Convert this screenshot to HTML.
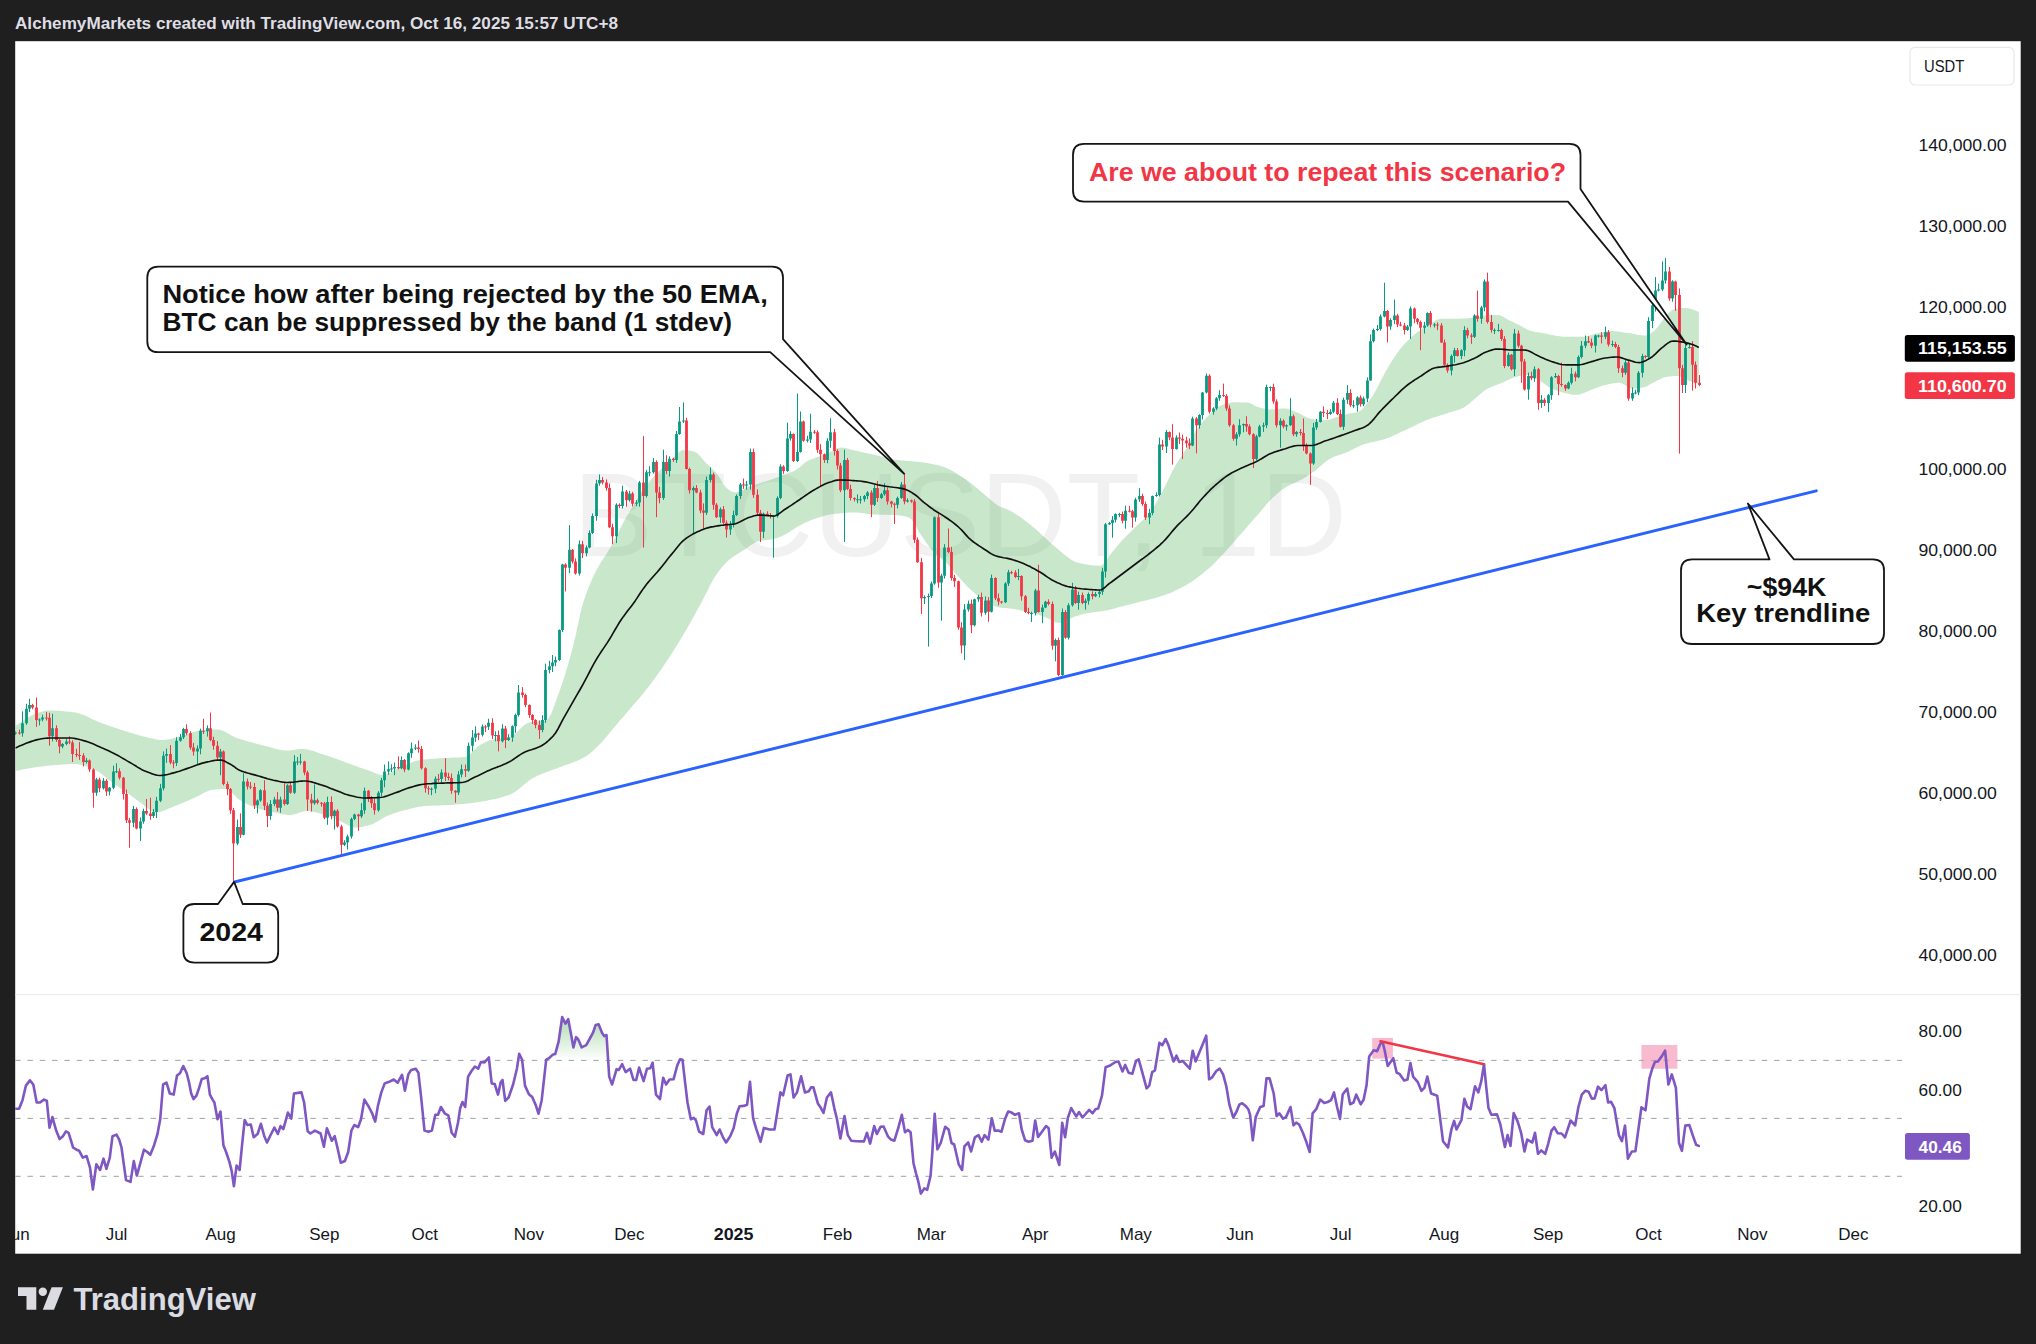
<!DOCTYPE html>
<html lang="en"><head><meta charset="utf-8"><title>BTCUSDT 1D chart</title>
<style>html,body{margin:0;padding:0;background:#1f1f1f;}body{width:2036px;height:1344px;overflow:hidden;}</style></head>
<body>
<svg width="2036" height="1344" viewBox="0 0 2036 1344" style="display:block">
<defs><clipPath id="cp"><rect x="15.2" y="41.2" width="2005.5" height="1212.5"/></clipPath>
<clipPath id="cplot"><rect x="15.2" y="41.2" width="1886.8" height="1212.5"/></clipPath>
<linearGradient id="og" x1="0" y1="0" x2="0" y2="1"><stop offset="0" stop-color="#4caf50" stop-opacity="0.45"/><stop offset="1" stop-color="#4caf50" stop-opacity="0"/></linearGradient>
</defs>
<rect width="2036" height="1344" fill="#1f1f1f"/>
<rect x="15.2" y="41.2" width="2005.5" height="1212.5" fill="#ffffff"/>
<text x="15" y="28.9" font-family="'Liberation Sans', sans-serif" font-weight="bold" font-size="16.5" fill="#dedee4" textLength="603" lengthAdjust="spacingAndGlyphs">AlchemyMarkets created with TradingView.com, Oct 16, 2025 15:57 UTC+8</text>
<g clip-path="url(#cp)">
<rect x="15.2" y="994" width="2005.5" height="1.2" fill="#ececec"/>
<text id="wm" x="573" y="555.7" font-family="'Liberation Sans', sans-serif" font-size="118.5" fill="#f1f1f1" textLength="774" lengthAdjust="spacingAndGlyphs">BTCUSDT, 1D</text>
<path d="M15.5 726 L17.5 724.5 L19.5 723.1 L21.5 721.7 L23.5 720.3 L25.5 719 L27.5 717.8 L29.5 716.7 L31.5 715.6 L33.5 714.6 L35.5 713.7 L37.5 712.9 L39.5 712.3 L41.5 711.7 L43.5 711.2 L45.5 710.8 L47.5 710.6 L49.5 710.5 L51.5 710.5 L53.5 710.6 L55.5 710.6 L57.5 710.7 L59.5 710.8 L61.5 711 L63.5 711.2 L65.5 711.4 L67.5 711.6 L69.5 711.8 L71.5 712 L73.5 712.3 L75.5 712.6 L77.5 713 L79.5 713.5 L81.5 714.2 L83.5 715 L85.5 715.8 L87.5 716.8 L89.5 717.7 L91.5 718.7 L93.5 719.7 L95.5 720.6 L97.5 721.5 L99.5 722.3 L101.5 723 L103.5 723.8 L105.5 724.5 L107.5 725.2 L109.5 725.9 L111.5 726.6 L113.5 727.3 L115.5 728 L117.5 728.6 L119.5 729.3 L121.5 729.9 L123.5 730.5 L125.5 731.2 L127.5 731.8 L129.5 732.4 L131.5 733 L133.5 733.6 L135.5 734.2 L137.5 734.8 L139.5 735.4 L141.5 736 L143.5 736.5 L145.5 737 L147.5 737.5 L149.5 737.9 L151.5 738.3 L153.5 738.8 L155.5 739.2 L157.5 739.6 L159.5 739.9 L161.5 740 L163.5 740 L165.5 739.8 L167.5 739.5 L169.5 739.2 L171.5 738.7 L173.5 738.2 L175.5 737.7 L177.5 737.2 L179.5 736.6 L181.5 736.1 L183.5 735.6 L185.5 735 L187.5 734.2 L189.5 733.5 L191.5 732.7 L193.5 732 L195.5 731.4 L197.5 730.9 L199.5 730.6 L201.5 730.4 L203.5 730.2 L205.5 730 L207.5 729.9 L209.5 729.7 L211.5 729.6 L213.5 729.6 L215.5 729.5 L217.5 729.5 L219.5 729.8 L221.5 730.3 L223.5 731.1 L225.5 732.1 L227.5 733.2 L229.5 734.3 L231.5 735.4 L233.5 736.5 L235.5 737.4 L237.5 738.2 L239.5 738.8 L241.5 739.5 L243.5 740.1 L245.5 740.7 L247.5 741.2 L249.5 741.8 L251.5 742.3 L253.5 742.9 L255.5 743.4 L257.5 743.9 L259.5 744.4 L261.5 744.9 L263.5 745.4 L265.5 745.9 L267.5 746.5 L269.5 747.1 L271.5 747.7 L273.5 748.2 L275.5 748.8 L277.5 749.3 L279.5 749.7 L281.5 750.1 L283.5 750.3 L285.5 750.5 L287.5 750.5 L289.5 750.4 L291.5 750.2 L293.5 749.9 L295.5 749.6 L297.5 749.3 L299.5 749.1 L301.5 749 L303.5 749 L305.5 749.2 L307.5 749.6 L309.5 750 L311.5 750.5 L313.5 751.1 L315.5 751.8 L317.5 752.5 L319.5 753.2 L321.5 753.9 L323.5 754.5 L325.5 755.2 L327.5 755.8 L329.5 756.4 L331.5 757.1 L333.5 757.9 L335.5 758.6 L337.5 759.3 L339.5 760.1 L341.5 760.8 L343.5 761.6 L345.5 762.4 L347.5 763.1 L349.5 763.8 L351.5 764.5 L353.5 765.2 L355.5 765.9 L357.5 766.7 L359.5 767.4 L361.5 768.1 L363.5 768.8 L365.5 769.5 L367.5 770.1 L369.5 770.8 L371.5 771.6 L373.5 772.4 L375.5 773.3 L377.5 774.1 L379.5 774.7 L381.5 775 L383.5 774.9 L385.5 774.5 L387.5 773.8 L389.5 772.9 L391.5 771.9 L393.5 770.8 L395.5 769.7 L397.5 768.6 L399.5 767.7 L401.5 766.9 L403.5 766 L405.5 765.1 L407.5 764.2 L409.5 763.3 L411.5 762.5 L413.5 761.7 L415.5 761 L417.5 760.5 L419.5 760.1 L421.5 759.8 L423.5 759.6 L425.5 759.4 L427.5 759.2 L429.5 759 L431.5 758.8 L433.5 758.7 L435.5 758.6 L437.5 758.4 L439.5 758.3 L441.5 758.2 L443.5 758.1 L445.5 758 L447.5 757.9 L449.5 757.8 L451.5 757.7 L453.5 757.6 L455.5 757.6 L457.5 757.5 L459.5 757.4 L461.5 757.3 L463.5 757.1 L465.5 756.9 L467.5 756.1 L469.5 754.7 L471.5 752.8 L473.5 750.8 L475.5 748.7 L477.5 746.8 L479.5 745.3 L481.5 744.2 L483.5 743.2 L485.5 742.2 L487.5 741.3 L489.5 740.5 L491.5 739.8 L493.5 739.3 L495.5 738.9 L497.5 738.7 L499.5 738.5 L501.5 738.3 L503.5 738.2 L505.5 738 L507.5 737.7 L509.5 737.4 L511.5 736.6 L513.5 735.3 L515.5 733.6 L517.5 731.7 L519.5 729.6 L521.5 727.6 L523.5 725.8 L525.5 724.2 L527.5 723 L529.5 722.4 L531.5 722 L533.5 721.7 L535.5 721.5 L537.5 721.4 L539.5 721.2 L541.5 721 L543.5 720.7 L545.5 720.3 L547.5 719.5 L549.5 717 L551.5 713 L553.5 707.9 L555.5 702.3 L557.5 696.6 L559.5 691.2 L561.5 685.6 L563.5 679.5 L565.5 673.1 L567.5 666.4 L569.5 659.3 L571.5 652 L573.5 644.4 L575.5 636.2 L577.5 626.8 L579.5 617.2 L581.5 608.6 L583.5 601.8 L585.5 595.8 L587.5 590.3 L589.5 585.2 L591.5 580.5 L593.5 576.1 L595.5 572 L597.5 568.2 L599.5 564.7 L601.5 561.5 L603.5 558.5 L605.5 555.5 L607.5 552.3 L609.5 549 L611.5 545.4 L613.5 541.7 L615.5 537.8 L617.5 533.8 L619.5 529.9 L621.5 526 L623.5 522.2 L625.5 518.5 L627.5 515 L629.5 511.6 L631.5 508.3 L633.5 505 L635.5 501.7 L637.5 498.6 L639.5 495.5 L641.5 492.5 L643.5 489.5 L645.5 486.8 L647.5 484.1 L649.5 481.6 L651.5 479.2 L653.5 477 L655.5 474.9 L657.5 472.8 L659.5 470.8 L661.5 468.9 L663.5 467.1 L665.5 465.2 L667.5 463.4 L669.5 461.6 L671.5 459.5 L673.5 457.3 L675.5 455.2 L677.5 453.3 L679.5 451.7 L681.5 450.6 L683.5 450 L685.5 450 L687.5 450.2 L689.5 450.6 L691.5 451 L693.5 451.6 L695.5 452.2 L697.5 453.5 L699.5 455.4 L701.5 457.7 L703.5 460.2 L705.5 462.5 L707.5 464.5 L709.5 466.3 L711.5 468.2 L713.5 470.1 L715.5 472.2 L717.5 474.5 L719.5 477.4 L721.5 480.9 L723.5 484.3 L725.5 487.1 L727.5 488.7 L729.5 490.2 L731.5 491.4 L733.5 492.2 L735.5 492.5 L737.5 492.3 L739.5 491.7 L741.5 490.8 L743.5 489.8 L745.5 488.7 L747.5 487.6 L749.5 486.6 L751.5 485.8 L753.5 485.1 L755.5 484.5 L757.5 483.9 L759.5 483.3 L761.5 482.7 L763.5 482.1 L765.5 481.5 L767.5 480.8 L769.5 480.2 L771.5 479.5 L773.5 478.8 L775.5 478 L777.5 477.3 L779.5 476.6 L781.5 475.8 L783.5 475.1 L785.5 474.3 L787.5 473.6 L789.5 472.8 L791.5 472.1 L793.5 471.2 L795.5 470.3 L797.5 469.1 L799.5 467.5 L801.5 465.7 L803.5 463.9 L805.5 462.3 L807.5 461 L809.5 460 L811.5 459.2 L813.5 458.4 L815.5 457.7 L817.5 457 L819.5 456.2 L821.5 455.4 L823.5 454.6 L825.5 453.8 L827.5 453 L829.5 452.2 L831.5 451.3 L833.5 450.3 L835.5 449.2 L837.5 448.3 L839.5 447.7 L841.5 447.5 L843.5 447.7 L845.5 448.1 L847.5 448.6 L849.5 449.2 L851.5 449.8 L853.5 450.2 L855.5 450.7 L857.5 451.1 L859.5 451.5 L861.5 452 L863.5 452.4 L865.5 452.9 L867.5 453.3 L869.5 453.8 L871.5 454.2 L873.5 454.7 L875.5 455.1 L877.5 455.6 L879.5 456.1 L881.5 456.6 L883.5 457.1 L885.5 457.6 L887.5 458.1 L889.5 458.5 L891.5 459 L893.5 459.4 L895.5 459.7 L897.5 460 L899.5 460.2 L901.5 460.4 L903.5 460.6 L905.5 460.8 L907.5 460.9 L909.5 461.1 L911.5 461.2 L913.5 461.4 L915.5 461.5 L917.5 461.7 L919.5 461.9 L921.5 462.2 L923.5 462.5 L925.5 462.8 L927.5 463.1 L929.5 463.4 L931.5 463.8 L933.5 464.2 L935.5 464.7 L937.5 465.1 L939.5 465.7 L941.5 466.2 L943.5 466.8 L945.5 467.5 L947.5 468.4 L949.5 469.4 L951.5 470.4 L953.5 471.6 L955.5 472.8 L957.5 474.1 L959.5 475.4 L961.5 476.7 L963.5 478 L965.5 479.3 L967.5 480.7 L969.5 482.2 L971.5 483.7 L973.5 485.3 L975.5 487 L977.5 488.6 L979.5 490.3 L981.5 492 L983.5 493.7 L985.5 495.4 L987.5 497 L989.5 498.7 L991.5 500.4 L993.5 502.2 L995.5 503.8 L997.5 505.3 L999.5 506.4 L1001.5 507.3 L1003.5 508.1 L1005.5 508.8 L1007.5 509.6 L1009.5 510.5 L1011.5 511.5 L1013.5 512.6 L1015.5 513.9 L1017.5 515.2 L1019.5 516.6 L1021.5 518 L1023.5 519.5 L1025.5 521 L1027.5 522.6 L1029.5 524.1 L1031.5 525.7 L1033.5 527.3 L1035.5 529 L1037.5 530.8 L1039.5 532.6 L1041.5 534.5 L1043.5 536.4 L1045.5 538.3 L1047.5 540.1 L1049.5 542 L1051.5 543.8 L1053.5 545.5 L1055.5 547.1 L1057.5 548.7 L1059.5 550.4 L1061.5 552.2 L1063.5 553.9 L1065.5 555.5 L1067.5 557.1 L1069.5 558.6 L1071.5 559.9 L1073.5 561 L1075.5 561.9 L1077.5 562.5 L1079.5 563 L1081.5 563.4 L1083.5 563.9 L1085.5 564.3 L1087.5 564.6 L1089.5 564.9 L1091.5 565.2 L1093.5 565.5 L1095.5 565.6 L1097.5 565.7 L1099.5 565.8 L1101.5 565.4 L1103.5 563.7 L1105.5 561.2 L1107.5 558.3 L1109.5 555.4 L1111.5 552.9 L1113.5 550.6 L1115.5 548.2 L1117.5 545.8 L1119.5 543.4 L1121.5 541.1 L1123.5 538.9 L1125.5 536.9 L1127.5 534.8 L1129.5 532.9 L1131.5 530.9 L1133.5 529 L1135.5 527 L1137.5 525 L1139.5 523.2 L1141.5 521.3 L1143.5 519.5 L1145.5 517.5 L1147.5 515.4 L1149.5 513 L1151.5 510.3 L1153.5 507.3 L1155.5 504 L1157.5 500.6 L1159.5 497 L1161.5 493.3 L1163.5 489.6 L1165.5 485.6 L1167.5 481.3 L1169.5 477 L1171.5 472.8 L1173.5 468.9 L1175.5 465.4 L1177.5 462.3 L1179.5 459.2 L1181.5 456.3 L1183.5 453.2 L1185.5 450 L1187.5 446.4 L1189.5 442.6 L1191.5 438.8 L1193.5 435 L1195.5 431.5 L1197.5 428.6 L1199.5 425.8 L1201.5 423.2 L1203.5 420.8 L1205.5 418.6 L1207.5 416.5 L1209.5 414.5 L1211.5 412.5 L1213.5 410.5 L1215.5 408.7 L1217.5 407.1 L1219.5 405.9 L1221.5 405 L1223.5 404.4 L1225.5 403.8 L1227.5 403.3 L1229.5 402.9 L1231.5 402.5 L1233.5 402.3 L1235.5 402.3 L1237.5 402.3 L1239.5 402.3 L1241.5 402.4 L1243.5 402.5 L1245.5 402.5 L1247.5 402.6 L1249.5 402.9 L1251.5 403.7 L1253.5 404.9 L1255.5 406.1 L1257.5 407 L1259.5 407.5 L1261.5 408.1 L1263.5 408.6 L1265.5 409 L1267.5 409.3 L1269.5 409.5 L1271.5 409.5 L1273.5 409.4 L1275.5 409.2 L1277.5 409 L1279.5 408.7 L1281.5 408.5 L1283.5 408.4 L1285.5 408.4 L1287.5 408.8 L1289.5 409.4 L1291.5 410.2 L1293.5 411 L1295.5 411.9 L1297.5 412.8 L1299.5 413.6 L1301.5 414.6 L1303.5 415.7 L1305.5 416.8 L1307.5 417.7 L1309.5 418.5 L1311.5 419 L1313.5 419.3 L1315.5 419.6 L1317.5 419.8 L1319.5 420 L1321.5 420.2 L1323.5 420.3 L1325.5 420.3 L1327.5 420 L1329.5 419.5 L1331.5 418.9 L1333.5 418.2 L1335.5 417.5 L1337.5 417 L1339.5 416.3 L1341.5 415.7 L1343.5 415.1 L1345.5 414.5 L1347.5 414 L1349.5 413.6 L1351.5 413.3 L1353.5 413 L1355.5 412.6 L1357.5 412.2 L1359.5 411.3 L1361.5 409.9 L1363.5 407.9 L1365.5 405.6 L1367.5 403 L1369.5 400.2 L1371.5 397.5 L1373.5 394.5 L1375.5 391 L1377.5 387.2 L1379.5 383.2 L1381.5 379.2 L1383.5 375.4 L1385.5 371.8 L1387.5 368.4 L1389.5 364.9 L1391.5 361.6 L1393.5 358.4 L1395.5 355.4 L1397.5 352.7 L1399.5 350.1 L1401.5 347.6 L1403.5 345.3 L1405.5 343.1 L1407.5 341 L1409.5 339 L1411.5 337.1 L1413.5 335.2 L1415.5 333.5 L1417.5 331.9 L1419.5 330.4 L1421.5 329 L1423.5 327.8 L1425.5 326.5 L1427.5 325.4 L1429.5 324.3 L1431.5 323.1 L1433.5 321.9 L1435.5 320.6 L1437.5 319.6 L1439.5 318.9 L1441.5 318.7 L1443.5 318.7 L1445.5 318.7 L1447.5 318.7 L1449.5 318.7 L1451.5 318.7 L1453.5 318.7 L1455.5 318.7 L1457.5 318.7 L1459.5 318.7 L1461.5 318.6 L1463.5 318.5 L1465.5 318.4 L1467.5 318.3 L1469.5 318.1 L1471.5 317.9 L1473.5 317.7 L1475.5 317.5 L1477.5 317.2 L1479.5 316.7 L1481.5 316.2 L1483.5 315.7 L1485.5 315.3 L1487.5 315 L1489.5 315 L1491.5 315 L1493.5 315 L1495.5 315 L1497.5 315 L1499.5 315.3 L1501.5 316 L1503.5 317.1 L1505.5 318.2 L1507.5 319.4 L1509.5 320.4 L1511.5 321.3 L1513.5 322.3 L1515.5 323.3 L1517.5 324.3 L1519.5 325.3 L1521.5 326.3 L1523.5 327.4 L1525.5 328.6 L1527.5 329.6 L1529.5 330.5 L1531.5 331.1 L1533.5 331.6 L1535.5 331.9 L1537.5 332.2 L1539.5 332.5 L1541.5 332.8 L1543.5 333.2 L1545.5 333.6 L1547.5 334 L1549.5 334.4 L1551.5 334.9 L1553.5 335.3 L1555.5 335.7 L1557.5 336 L1559.5 336.3 L1561.5 336.5 L1563.5 336.7 L1565.5 336.7 L1567.5 336.7 L1569.5 336.7 L1571.5 336.7 L1573.5 336.7 L1575.5 336.7 L1577.5 336.7 L1579.5 336.7 L1581.5 336.7 L1583.5 336.7 L1585.5 336.5 L1587.5 336.1 L1589.5 335.6 L1591.5 335 L1593.5 334.4 L1595.5 333.8 L1597.5 333.3 L1599.5 332.8 L1601.5 332.4 L1603.5 331.9 L1605.5 331.5 L1607.5 331.2 L1609.5 331 L1611.5 331 L1613.5 331.1 L1615.5 331.3 L1617.5 331.5 L1619.5 331.8 L1621.5 332.1 L1623.5 332.4 L1625.5 332.7 L1627.5 332.9 L1629.5 333.2 L1631.5 333.5 L1633.5 333.9 L1635.5 334.3 L1637.5 334.7 L1639.5 335 L1641.5 335.3 L1643.5 335.5 L1645.5 335.6 L1647.5 335.4 L1649.5 334.4 L1651.5 333 L1653.5 331.3 L1655.5 329.6 L1657.5 327.3 L1659.5 324.7 L1661.5 321.9 L1663.5 319.3 L1665.5 316.9 L1667.5 314.4 L1669.5 312.2 L1671.5 310.4 L1673.5 309.6 L1675.5 309.1 L1677.5 308.6 L1679.5 308.3 L1681.5 308.1 L1683.5 308 L1685.5 308 L1687.5 308.2 L1689.5 308.6 L1691.5 309.1 L1693.5 309.7 L1695.5 310.5 L1697.5 311.4 L1698.8 312 L1698.8 384 L1697.5 383.6 L1695.5 383 L1693.5 382.3 L1691.5 381.6 L1689.5 380.9 L1687.5 380.1 L1685.5 379.1 L1683.5 378 L1681.5 377 L1679.5 376.3 L1677.5 376 L1675.5 376 L1673.5 376.1 L1671.5 376.3 L1669.5 376.5 L1667.5 376.8 L1665.5 377.1 L1663.5 377.6 L1661.5 378.4 L1659.5 379.4 L1657.5 380.5 L1655.5 381.5 L1653.5 382.5 L1651.5 383.6 L1649.5 384.8 L1647.5 385.9 L1645.5 386.8 L1643.5 387.3 L1641.5 387.7 L1639.5 388 L1637.5 388.2 L1635.5 388.4 L1633.5 388.5 L1631.5 388.4 L1629.5 387.8 L1627.5 386.8 L1625.5 385.5 L1623.5 384.3 L1621.5 383.3 L1619.5 382.8 L1617.5 382.8 L1615.5 383 L1613.5 383.3 L1611.5 383.7 L1609.5 384.1 L1607.5 384.5 L1605.5 385 L1603.5 385.5 L1601.5 386.1 L1599.5 386.8 L1597.5 387.6 L1595.5 388.3 L1593.5 389.1 L1591.5 389.8 L1589.5 390.5 L1587.5 391.4 L1585.5 392.2 L1583.5 393.1 L1581.5 393.8 L1579.5 394.4 L1577.5 394.7 L1575.5 394.8 L1573.5 394.7 L1571.5 394.4 L1569.5 394 L1567.5 393.6 L1565.5 393.1 L1563.5 392.7 L1561.5 392.1 L1559.5 391.5 L1557.5 390.9 L1555.5 390.2 L1553.5 389.4 L1551.5 388.5 L1549.5 387.4 L1547.5 386.1 L1545.5 384.7 L1543.5 383.1 L1541.5 381.7 L1539.5 380.3 L1537.5 379.2 L1535.5 378.2 L1533.5 377.1 L1531.5 376.2 L1529.5 375.4 L1527.5 375 L1525.5 375 L1523.5 375.2 L1521.5 375.6 L1519.5 376 L1517.5 376.5 L1515.5 377 L1513.5 377.6 L1511.5 378.4 L1509.5 379.2 L1507.5 380.2 L1505.5 381.2 L1503.5 382.1 L1501.5 383 L1499.5 383.8 L1497.5 384.6 L1495.5 385.3 L1493.5 386.1 L1491.5 386.9 L1489.5 387.8 L1487.5 388.8 L1485.5 389.9 L1483.5 391.3 L1481.5 392.9 L1479.5 394.7 L1477.5 396.5 L1475.5 398.2 L1473.5 399.9 L1471.5 401.6 L1469.5 403.4 L1467.5 405.1 L1465.5 406.6 L1463.5 407.7 L1461.5 408.6 L1459.5 409.4 L1457.5 410.1 L1455.5 410.7 L1453.5 411.3 L1451.5 411.9 L1449.5 412.5 L1447.5 413.2 L1445.5 413.8 L1443.5 414.4 L1441.5 415 L1439.5 415.7 L1437.5 416.3 L1435.5 416.9 L1433.5 417.6 L1431.5 418.3 L1429.5 419 L1427.5 419.8 L1425.5 420.6 L1423.5 421.5 L1421.5 422.4 L1419.5 423.3 L1417.5 424.3 L1415.5 425.2 L1413.5 426.2 L1411.5 427.2 L1409.5 428.1 L1407.5 429 L1405.5 429.9 L1403.5 430.9 L1401.5 431.8 L1399.5 432.8 L1397.5 433.8 L1395.5 434.7 L1393.5 435.6 L1391.5 436.5 L1389.5 437.4 L1387.5 438.1 L1385.5 438.8 L1383.5 439.5 L1381.5 440 L1379.5 440.5 L1377.5 441 L1375.5 441.4 L1373.5 441.9 L1371.5 442.3 L1369.5 442.7 L1367.5 443.2 L1365.5 443.8 L1363.5 444.4 L1361.5 445.1 L1359.5 445.9 L1357.5 446.9 L1355.5 447.9 L1353.5 449 L1351.5 450.1 L1349.5 451.1 L1347.5 452 L1345.5 452.8 L1343.5 453.6 L1341.5 454.3 L1339.5 454.9 L1337.5 455.6 L1335.5 456.3 L1333.5 457.1 L1331.5 458 L1329.5 459 L1327.5 460.2 L1325.5 461.8 L1323.5 463.5 L1321.5 465.3 L1319.5 467.1 L1317.5 468.8 L1315.5 470.4 L1313.5 471.8 L1311.5 473.2 L1309.5 474.6 L1307.5 475.9 L1305.5 477.2 L1303.5 478.4 L1301.5 479.6 L1299.5 480.6 L1297.5 481.6 L1295.5 482.5 L1293.5 483.4 L1291.5 484.3 L1289.5 485.2 L1287.5 486.2 L1285.5 487.4 L1283.5 488.7 L1281.5 490.1 L1279.5 491.7 L1277.5 493.4 L1275.5 495.2 L1273.5 497.1 L1271.5 499 L1269.5 501 L1267.5 503.2 L1265.5 505.5 L1263.5 507.9 L1261.5 510.3 L1259.5 512.7 L1257.5 515 L1255.5 517.3 L1253.5 519.6 L1251.5 521.8 L1249.5 524.1 L1247.5 526.4 L1245.5 528.7 L1243.5 530.9 L1241.5 533.2 L1239.5 535.5 L1237.5 537.8 L1235.5 540.1 L1233.5 542.5 L1231.5 544.8 L1229.5 547.1 L1227.5 549.3 L1225.5 551.6 L1223.5 553.7 L1221.5 555.8 L1219.5 557.9 L1217.5 560 L1215.5 562 L1213.5 563.9 L1211.5 565.9 L1209.5 567.7 L1207.5 569.4 L1205.5 571.1 L1203.5 572.8 L1201.5 574.4 L1199.5 576 L1197.5 577.6 L1195.5 579 L1193.5 580.4 L1191.5 581.8 L1189.5 583 L1187.5 584.2 L1185.5 585.4 L1183.5 586.5 L1181.5 587.6 L1179.5 588.6 L1177.5 589.6 L1175.5 590.6 L1173.5 591.5 L1171.5 592.4 L1169.5 593.2 L1167.5 594 L1165.5 594.7 L1163.5 595.4 L1161.5 596.1 L1159.5 596.7 L1157.5 597.3 L1155.5 597.9 L1153.5 598.4 L1151.5 599 L1149.5 599.5 L1147.5 600 L1145.5 600.6 L1143.5 601.1 L1141.5 601.6 L1139.5 602.1 L1137.5 602.6 L1135.5 603.1 L1133.5 603.6 L1131.5 604.1 L1129.5 604.6 L1127.5 605.1 L1125.5 605.6 L1123.5 606.1 L1121.5 606.6 L1119.5 607.1 L1117.5 607.6 L1115.5 608.2 L1113.5 608.7 L1111.5 609.2 L1109.5 609.7 L1107.5 610.2 L1105.5 610.6 L1103.5 611 L1101.5 611.3 L1099.5 611.5 L1097.5 611.8 L1095.5 612 L1093.5 612.3 L1091.5 612.5 L1089.5 612.9 L1087.5 613.2 L1085.5 613.6 L1083.5 614.1 L1081.5 614.6 L1079.5 615.2 L1077.5 615.7 L1075.5 616.3 L1073.5 617.1 L1071.5 618 L1069.5 619.1 L1067.5 620.2 L1065.5 621.3 L1063.5 622.2 L1061.5 622.8 L1059.5 623 L1057.5 622.8 L1055.5 622.2 L1053.5 621.4 L1051.5 620.4 L1049.5 619.3 L1047.5 618.2 L1045.5 617.2 L1043.5 616.4 L1041.5 615.8 L1039.5 615.1 L1037.5 614.5 L1035.5 613.9 L1033.5 613.4 L1031.5 612.9 L1029.5 612.4 L1027.5 611.9 L1025.5 611.4 L1023.5 611 L1021.5 610.5 L1019.5 610.1 L1017.5 609.7 L1015.5 609.3 L1013.5 609 L1011.5 608.7 L1009.5 608.4 L1007.5 608.3 L1005.5 608.1 L1003.5 608 L1001.5 607.8 L999.5 607.6 L997.5 607.2 L995.5 606.5 L993.5 605.7 L991.5 604.6 L989.5 603.4 L987.5 602.2 L985.5 600.9 L983.5 599.7 L981.5 598.4 L979.5 597 L977.5 595.5 L975.5 593.9 L973.5 592.2 L971.5 590.4 L969.5 588.6 L967.5 586.7 L965.5 584.6 L963.5 582.4 L961.5 580.3 L959.5 578 L957.5 575.8 L955.5 573.4 L953.5 571 L951.5 568.6 L949.5 566.2 L947.5 564 L945.5 562 L943.5 560.3 L941.5 558.7 L939.5 557.2 L937.5 555.7 L935.5 553.9 L933.5 552 L931.5 549.7 L929.5 547.1 L927.5 544.4 L925.5 541.5 L923.5 538.6 L921.5 535.7 L919.5 532.7 L917.5 529.2 L915.5 525.5 L913.5 522.1 L911.5 519.4 L909.5 517.7 L907.5 517.1 L905.5 516.5 L903.5 516.1 L901.5 515.8 L899.5 515.5 L897.5 515.2 L895.5 515.1 L893.5 515 L891.5 514.9 L889.5 514.8 L887.5 514.8 L885.5 514.8 L883.5 514.7 L881.5 514.7 L879.5 514.7 L877.5 514.6 L875.5 514.6 L873.5 514.5 L871.5 514.3 L869.5 514.1 L867.5 513.9 L865.5 513.6 L863.5 513.3 L861.5 513.1 L859.5 512.8 L857.5 512.6 L855.5 512.5 L853.5 512.5 L851.5 512.5 L849.5 512.6 L847.5 512.7 L845.5 512.8 L843.5 513 L841.5 513.2 L839.5 513.4 L837.5 513.6 L835.5 513.8 L833.5 514.1 L831.5 514.3 L829.5 514.7 L827.5 515.1 L825.5 515.6 L823.5 516.1 L821.5 516.7 L819.5 517.2 L817.5 517.9 L815.5 518.5 L813.5 519.2 L811.5 519.9 L809.5 520.7 L807.5 521.7 L805.5 522.6 L803.5 523.6 L801.5 524.7 L799.5 525.7 L797.5 526.8 L795.5 528 L793.5 529.3 L791.5 530.6 L789.5 531.9 L787.5 533.1 L785.5 534.2 L783.5 535.2 L781.5 536.2 L779.5 537.1 L777.5 537.9 L775.5 538.6 L773.5 539.1 L771.5 539.4 L769.5 539.7 L767.5 539.9 L765.5 540.1 L763.5 540.3 L761.5 540.5 L759.5 540.9 L757.5 541.4 L755.5 542.3 L753.5 543.4 L751.5 544.7 L749.5 546.1 L747.5 547.6 L745.5 549 L743.5 550.3 L741.5 551.5 L739.5 552.7 L737.5 554 L735.5 555.2 L733.5 556.6 L731.5 558 L729.5 559.6 L727.5 561.3 L725.5 563.3 L723.5 565.4 L721.5 567.7 L719.5 570.2 L717.5 572.9 L715.5 575.7 L713.5 579 L711.5 582.7 L709.5 586.6 L707.5 590.7 L705.5 594.6 L703.5 598.4 L701.5 602.2 L699.5 605.9 L697.5 609.6 L695.5 613.3 L693.5 617 L691.5 620.6 L689.5 624.1 L687.5 627.6 L685.5 631.1 L683.5 634.5 L681.5 637.8 L679.5 641.1 L677.5 644.4 L675.5 647.6 L673.5 650.8 L671.5 653.9 L669.5 657 L667.5 660.1 L665.5 663.1 L663.5 666 L661.5 668.9 L659.5 671.8 L657.5 674.6 L655.5 677.4 L653.5 680.1 L651.5 682.8 L649.5 685.5 L647.5 688.1 L645.5 690.6 L643.5 693.1 L641.5 695.6 L639.5 697.9 L637.5 700.2 L635.5 702.5 L633.5 704.8 L631.5 707.1 L629.5 709.4 L627.5 711.8 L625.5 714.1 L623.5 716.4 L621.5 718.8 L619.5 721.1 L617.5 723.4 L615.5 725.8 L613.5 728.1 L611.5 730.5 L609.5 732.9 L607.5 735.4 L605.5 737.8 L603.5 740.2 L601.5 742.4 L599.5 744.5 L597.5 746.5 L595.5 748.4 L593.5 750.2 L591.5 752 L589.5 753.7 L587.5 755.2 L585.5 756.6 L583.5 757.8 L581.5 758.8 L579.5 759.8 L577.5 760.7 L575.5 761.5 L573.5 762.3 L571.5 763 L569.5 763.7 L567.5 764.4 L565.5 765.1 L563.5 765.8 L561.5 766.5 L559.5 767.3 L557.5 768.1 L555.5 768.9 L553.5 769.6 L551.5 770.3 L549.5 771.1 L547.5 771.8 L545.5 772.5 L543.5 773.3 L541.5 774.1 L539.5 774.9 L537.5 775.8 L535.5 776.8 L533.5 777.8 L531.5 778.9 L529.5 780.3 L527.5 781.8 L525.5 783.4 L523.5 785.1 L521.5 786.8 L519.5 788.4 L517.5 790 L515.5 791.5 L513.5 792.8 L511.5 793.9 L509.5 794.8 L507.5 795.5 L505.5 796.1 L503.5 796.8 L501.5 797.3 L499.5 797.9 L497.5 798.4 L495.5 798.9 L493.5 799.3 L491.5 799.7 L489.5 800.1 L487.5 800.5 L485.5 800.9 L483.5 801.2 L481.5 801.6 L479.5 801.9 L477.5 802.2 L475.5 802.4 L473.5 802.7 L471.5 803 L469.5 803.2 L467.5 803.4 L465.5 803.7 L463.5 803.9 L461.5 804.1 L459.5 804.3 L457.5 804.5 L455.5 804.6 L453.5 804.8 L451.5 804.9 L449.5 805 L447.5 805.1 L445.5 805.2 L443.5 805.3 L441.5 805.3 L439.5 805.4 L437.5 805.5 L435.5 805.5 L433.5 805.6 L431.5 805.7 L429.5 805.7 L427.5 805.8 L425.5 806 L423.5 806.1 L421.5 806.4 L419.5 806.7 L417.5 807 L415.5 807.4 L413.5 807.9 L411.5 808.4 L409.5 808.9 L407.5 809.4 L405.5 809.9 L403.5 810.4 L401.5 810.9 L399.5 811.5 L397.5 812.2 L395.5 812.8 L393.5 813.5 L391.5 814.2 L389.5 815 L387.5 815.8 L385.5 816.7 L383.5 817.7 L381.5 818.9 L379.5 820.2 L377.5 821.5 L375.5 822.6 L373.5 823.7 L371.5 824.5 L369.5 825.1 L367.5 825.6 L365.5 826.1 L363.5 826.5 L361.5 826.9 L359.5 827.2 L357.5 827.4 L355.5 827.5 L353.5 827.4 L351.5 826.9 L349.5 826.1 L347.5 825 L345.5 823.9 L343.5 822.8 L341.5 821.7 L339.5 820.8 L337.5 819.9 L335.5 819.1 L333.5 818.2 L331.5 817.3 L329.5 816.5 L327.5 815.8 L325.5 815.1 L323.5 814.6 L321.5 814 L319.5 813.3 L317.5 812.8 L315.5 812.2 L313.5 811.8 L311.5 811.4 L309.5 811.1 L307.5 811 L305.5 811.1 L303.5 811.4 L301.5 812 L299.5 812.6 L297.5 813.4 L295.5 814 L293.5 814.6 L291.5 814.9 L289.5 815 L287.5 814.9 L285.5 814.6 L283.5 814.3 L281.5 813.9 L279.5 813.5 L277.5 813 L275.5 812.6 L273.5 812.2 L271.5 811.8 L269.5 811.4 L267.5 810.9 L265.5 810.5 L263.5 810 L261.5 809.5 L259.5 808.9 L257.5 808.3 L255.5 807.7 L253.5 807 L251.5 806.1 L249.5 805.2 L247.5 804.2 L245.5 803.2 L243.5 802 L241.5 800.9 L239.5 799.7 L237.5 798.2 L235.5 796.3 L233.5 794.4 L231.5 792.5 L229.5 790.8 L227.5 789.6 L225.5 789 L223.5 789 L221.5 789.1 L219.5 789.2 L217.5 789.4 L215.5 789.6 L213.5 789.8 L211.5 790.1 L209.5 790.5 L207.5 791.2 L205.5 792.1 L203.5 793.1 L201.5 794.2 L199.5 795.3 L197.5 796.3 L195.5 797.3 L193.5 798.2 L191.5 799 L189.5 799.9 L187.5 800.8 L185.5 801.7 L183.5 802.6 L181.5 803.4 L179.5 804.2 L177.5 805 L175.5 805.8 L173.5 806.6 L171.5 807.4 L169.5 808.3 L167.5 809.1 L165.5 810 L163.5 810.7 L161.5 811.4 L159.5 811.9 L157.5 812.3 L155.5 812.5 L153.5 812.2 L151.5 811.2 L149.5 809.7 L147.5 808 L145.5 806.4 L143.5 805 L141.5 803.5 L139.5 802 L137.5 800.6 L135.5 799.1 L133.5 797.6 L131.5 796.1 L129.5 794.6 L127.5 793.2 L125.5 791.8 L123.5 790.5 L121.5 789.1 L119.5 787.7 L117.5 786.3 L115.5 785 L113.5 783.6 L111.5 782.1 L109.5 780.6 L107.5 779 L105.5 777.3 L103.5 775.6 L101.5 774.1 L99.5 772.6 L97.5 771.3 L95.5 770.2 L93.5 769.4 L91.5 768.5 L89.5 767.6 L87.5 766.8 L85.5 766.1 L83.5 765.4 L81.5 764.9 L79.5 764.4 L77.5 764.1 L75.5 764 L73.5 764 L71.5 764 L69.5 764.1 L67.5 764.2 L65.5 764.3 L63.5 764.4 L61.5 764.6 L59.5 764.7 L57.5 764.9 L55.5 765 L53.5 765.2 L51.5 765.4 L49.5 765.5 L47.5 765.7 L45.5 765.9 L43.5 766.2 L41.5 766.4 L39.5 766.7 L37.5 766.9 L35.5 767.2 L33.5 767.6 L31.5 767.9 L29.5 768.2 L27.5 768.6 L25.5 769 L23.5 769.3 L21.5 769.7 L19.5 770.2 L17.5 770.6 L15.5 771Z" fill="#4caf50" fill-opacity="0.3"/>
<path d="M12.5 731.3V737.5M15.5 731.4V735M22.5 711.3V736.7M26.5 703.8V724.9M29.5 698.8V712.1M39.5 718.4V725.4M42.5 714.7V721.4M52.5 713.8V741.5M62.5 743.1V748.3M66.5 739.1V745.3M86.5 757.9V763.5M96.5 777.8V795.8M103.5 778.1V789.6M109.5 787V795.4M113.5 765.6V789.1M116.5 763.3V773M133.5 805.9V827.1M140.5 817.5V840.9M143.5 808.7V823.7M153.5 809V817.9M156.5 796.9V818M160.5 783.9V802.1M163.5 751.4V790.4M166.5 748.6V762.9M176.5 737.2V766M180.5 733.9V741.7M183.5 727.8V739.1M197.5 745.5V763.9M200.5 728.7V754.3M207.5 725.4V736.6M220.5 748.9V775.2M237.5 819.6V845.1M243.5 773.3V835.3M257.5 799.5V813.4M260.5 789.2V801.8M270.5 800.1V819.8M274.5 796.9V806.2M280.5 796.7V812.7M287.5 784.2V805M294.5 755.1V794M297.5 757V765.1M300.5 753.9V764.5M314.5 784.5V804.8M327.5 796.7V824.8M334.5 809.6V829.6M344.5 840.2V846M347.5 834.6V849.5M351.5 817.5V838.6M354.5 813.7V820.2M361.5 803.1V818.1M364.5 787.6V813.9M378.5 791.2V811.7M381.5 777.9V796.1M384.5 764.5V787.3M388.5 761.4V774.8M391.5 764.3V772M394.5 762.5V775.2M401.5 756.4V769.2M408.5 752.3V770.3M411.5 742.6V757.8M415.5 744.3V750M431.5 787.5V795.2M435.5 776.4V793.2M441.5 769.3V782.2M458.5 771V795M461.5 764.5V777.4M468.5 742.5V771.8M472.5 730.1V751.4M475.5 726.3V741.8M482.5 724.4V736.5M488.5 718.8V729.9M495.5 731.3V741.3M502.5 724.2V742.4M508.5 734.3V741M512.5 725.3V741.8M515.5 713.7V732.8M518.5 685V716.6M542.5 715.2V732.3M545.5 663.8V722.9M549.5 660.8V673.4M552.5 655V672M555.5 656.6V666.3M559.5 629.4V661.1M562.5 563.8V632.1M569.5 525.1V573.1M579.5 540.3V575.5M586.5 545.4V556.4M589.5 530.3V548.2M592.5 513.4V534M596.5 479.8V520.8M599.5 474.5V485.7M616.5 503.3V543.1M622.5 485.7V508.5M629.5 490.7V501.7M636.5 500.1V506.1M639.5 480.9V506.7M646.5 469.9V497.6M649.5 466.2V476.2M653.5 458.1V473.6M663.5 449.7V499.9M669.5 456.3V476.6M676.5 431V462.8M679.5 407V434.8M683.5 402.5V423M693.5 486.4V533M706.5 476.5V515M710.5 467.4V482.3M720.5 507.4V522.9M730.5 521V534.9M733.5 510.7V527.4M736.5 494.5V516M740.5 483V499M746.5 480.9V489.7M750.5 448.6V489.6M763.5 512.6V538.1M773.5 515.2V557.7M777.5 496.3V517.7M780.5 464.3V499.2M787.5 422.7V471.8M790.5 431.2V440.7M797.5 393.5V462M800.5 411.5V452.6M807.5 435.7V442.4M810.5 413.7V443M827.5 438.2V463.3M830.5 418.2V447.8M844.5 449.7V542M857.5 494.3V503.3M860.5 496V503.6M864.5 494.9V501.7M867.5 491.1V499.2M874.5 485V506M881.5 493V498.9M884.5 483.1V495.7M897.5 496.6V508.4M901.5 482V498.8M907.5 498.3V502.6M924.5 595.3V604M928.5 593.6V646.6M931.5 581.5V598M934.5 516.5V584.8M941.5 573.8V620.7M944.5 544.1V578.6M964.5 604.1V660.1M968.5 600.5V611.7M974.5 598.6V626.4M978.5 594.8V601.8M985.5 596.4V614.7M991.5 574.6V612.5M1005.5 582.2V603M1008.5 569.8V586M1018.5 568.9V580.2M1031.5 611.7V622.1M1035.5 588.8V615.3M1042.5 604.6V623.2M1045.5 600.8V608.2M1055.5 638.5V661.4M1062.5 608.5V675.8M1068.5 603.2V639.5M1072.5 582.8V606.6M1078.5 591.6V609.7M1085.5 598.5V609.6M1088.5 592.5V604.6M1095.5 592V597.2M1099.5 589.8V597.4M1102.5 567.8V594.9M1105.5 523V577.6M1109.5 521.9V524.9M1112.5 516.1V537.7M1115.5 513.4V522.4M1119.5 512.8V517.2M1125.5 505.6V528.7M1135.5 497.8V521.7M1139.5 488.2V501.9M1149.5 508.9V524.2M1152.5 495.5V515.3M1156.5 492.3V496.8M1159.5 437.6V496.4M1166.5 430V453.1M1176.5 435.3V449.6M1192.5 416.7V446.2M1199.5 414.2V428.7M1202.5 392V419.5M1206.5 373.5V393.4M1213.5 407.2V414.7M1216.5 397.2V410.2M1219.5 390.2V400.8M1236.5 432.2V445.5M1239.5 419.2V436.7M1243.5 423.5V432.3M1256.5 434.8V460.2M1259.5 424.8V437.2M1263.5 422.6V431.9M1266.5 384.7V428.1M1270.5 386.4V391.3M1280.5 418.2V447.7M1286.5 424.4V430.6M1290.5 398.2V425.9M1296.5 431.1V436.8M1313.5 422.9V464.9M1316.5 418.9V429.9M1320.5 411.1V422.5M1330.5 409.2V414.9M1333.5 401V413.3M1343.5 397.6V430M1347.5 385.1V403.9M1353.5 400.3V408.1M1357.5 396.2V411.7M1363.5 396.6V406.2M1367.5 377.4V402.2M1370.5 334.5V380.6M1373.5 328.6V342.5M1377.5 324.9V331.1M1380.5 314.5V330.7M1384.5 282.7V317.4M1390.5 318.3V329.9M1394.5 299.6V324.1M1407.5 325V330.8M1410.5 306.4V339M1424.5 321.9V333.5M1427.5 312.4V326.8M1434.5 323V327.5M1451.5 354.5V375.4M1454.5 347.8V362.6M1461.5 349.2V359.1M1464.5 326.2V356.3M1474.5 314.2V338M1481.5 305.9V323.7M1484.5 279.4V311.3M1494.5 328.4V334M1498.5 323.8V331.6M1508.5 352.5V366.7M1514.5 328.9V376.1M1528.5 372.5V399.7M1534.5 366.3V381.8M1541.5 395V407.9M1548.5 394.1V412.1M1551.5 376.2V399.8M1555.5 373V377.9M1568.5 381.3V389.2M1571.5 367.7V384.5M1578.5 355.4V378.1M1581.5 341V358.4M1585.5 335.6V348.2M1595.5 334.5V352.5M1598.5 334.8V337.5M1605.5 326.6V339.1M1612.5 340.6V346.8M1625.5 360.2V374.8M1632.5 387.3V400.8M1635.5 389.7V394.3M1638.5 371.1V395.2M1642.5 353.8V377.4M1648.5 317.2V358.3M1652.5 301.3V328.1M1655.5 277.1V311.6M1658.5 283.7V291.3M1662.5 261.4V291.2M1665.5 258V283.6M1672.5 280.3V301.8M1685.5 344.5V393M1689.5 343.6V348.6" stroke="#089981" stroke-width="1" fill="none"/>
<path d="M19.5 729.6V734.7M32.5 703.8V709.2M36.5 697.5V726.9M46.5 711.9V720.5M49.5 712.8V745.7M56.5 725.3V741.9M59.5 738.7V753.3M69.5 736.3V744.2M72.5 740.3V762M76.5 748.8V757.2M79.5 742V759.8M83.5 753.2V766.4M89.5 759.5V771.8M93.5 768.3V807.7M99.5 777.6V792.1M106.5 779.1V795.9M119.5 768.4V779.6M123.5 776.9V799.6M126.5 789.5V823M129.5 817.9V847.8M136.5 807.4V829.3M146.5 799V815.1M150.5 797.7V819.8M170.5 745.1V764.2M173.5 760.1V768.3M186.5 724.3V735.4M190.5 731.3V749.6M193.5 742.9V755.6M203.5 718.8V734M210.5 712.5V741.2M213.5 736.8V749.7M217.5 741V759.7M223.5 750.4V785.4M227.5 781.6V795.2M230.5 788V813.8M233.5 807.9V882.3M240.5 813.4V838M247.5 778.5V789.5M250.5 782V789.2M254.5 782.9V809M264.5 780.2V810.1M267.5 802.6V827.1M277.5 792.1V811.3M284.5 783.3V805.5M290.5 783.1V793.7M304.5 760.8V775.2M307.5 770.6V810.8M311.5 793.7V811.5M317.5 798.5V804.3M321.5 802.1V806.7M324.5 801.9V819.3M331.5 796.4V819.4M337.5 809.2V827.7M341.5 824.8V855.3M358.5 813.8V830.9M368.5 790V802M371.5 796.1V807.8M374.5 798.3V814.6M398.5 756.4V769.3M404.5 759V772.2M418.5 740.5V752.7M421.5 746.1V769.6M425.5 767.3V792.7M428.5 785.9V794.6M438.5 774.1V781.9M445.5 758.2V781.1M448.5 772.8V780.4M451.5 773.5V793.8M455.5 790.2V802.7M465.5 764.6V777M478.5 732.7V740.1M485.5 724.9V732M492.5 718.2V739M498.5 730.6V751.4M505.5 726V748.2M522.5 687.1V697.7M525.5 693.6V707.2M529.5 704.4V717.8M532.5 714.2V724M535.5 719.2V728.3M539.5 720.5V738.8M565.5 563.3V591.5M572.5 549.1V563.6M575.5 558.4V574.6M582.5 540.8V558.1M602.5 477.1V484.4M606.5 479.4V490.6M609.5 483.4V528.2M612.5 523.7V544.2M619.5 503.4V508.2M626.5 490V506.7M632.5 491.8V506.4M643.5 436.2V547.6M656.5 460.3V517.2M659.5 486.8V503.3M666.5 455.2V474.1M673.5 457.8V461.9M686.5 417.7V469.5M689.5 467.7V493.5M696.5 485.1V493.3M700.5 489.7V513.3M703.5 503.4V528.5M713.5 472.6V509.8M716.5 503.1V518M723.5 506.1V524.3M726.5 520.4V537.5M743.5 478.5V488.9M753.5 448.6V497.9M757.5 489.4V515.4M760.5 509.9V542M767.5 511.3V515.7M770.5 513V518.6M783.5 465.2V473.8M793.5 433.4V461.9M803.5 420.6V441.7M814.5 430V433.8M817.5 430.4V452.8M820.5 444.2V485.7M824.5 453.5V462.9M834.5 428.9V455.6M837.5 449.3V469.6M840.5 462.9V492.2M847.5 458V490.2M850.5 484.6V500.5M854.5 497.4V501.4M871.5 490.3V517.2M877.5 480.9V501.9M887.5 487.4V504.6M891.5 500.9V507.4M894.5 502.6V524M904.5 474.5V504.3M911.5 499.6V502.7M914.5 499.1V543.1M917.5 537.5V562.8M921.5 557.8V613.9M938.5 512.9V587.8M948.5 528.5V553.2M951.5 546.8V580.6M954.5 574.9V586.9M958.5 580.6V629.7M961.5 622.3V653.3M971.5 599.6V633.1M981.5 592.6V616.5M988.5 597.1V621.8M995.5 577.3V600.1M998.5 593.5V605.4M1001.5 600.9V603.7M1011.5 570.8V574.2M1015.5 570.2V578.1M1021.5 575.3V600.7M1025.5 595.1V612.9M1028.5 607.8V614.3M1038.5 564.7V612.6M1048.5 599.3V605.4M1052.5 601.6V649.8M1058.5 637.5V676.1M1065.5 610.1V638.7M1075.5 586V603.9M1082.5 592.5V604.2M1092.5 591.4V599.3M1122.5 511.6V523.4M1129.5 505.8V512.4M1132.5 509.9V527.6M1142.5 493.7V505.8M1145.5 501.6V519.9M1162.5 439.8V450.1M1169.5 431.4V440.3M1172.5 424.1V464.6M1179.5 432.5V444M1182.5 434.6V459M1186.5 436.8V447.7M1189.5 438.4V449.1M1196.5 417.1V453.4M1209.5 374.3V413.6M1223.5 383.6V396.9M1226.5 394.2V410.8M1229.5 405.3V426.8M1233.5 423.9V440.7M1246.5 416.2V431.8M1249.5 424.4V435.3M1253.5 433.2V468M1273.5 383.7V403.8M1276.5 399.3V427.5M1283.5 419.3V428.3M1293.5 414.5V436.2M1300.5 429.1V435.4M1303.5 418.5V450.9M1306.5 443.4V454.3M1310.5 452.4V484.8M1323.5 406.5V417.2M1327.5 409.9V419.1M1337.5 398.2V415.1M1340.5 409.5V427.5M1350.5 389.2V406.8M1360.5 395.5V406.6M1387.5 310V342.4M1397.5 313.8V327.2M1400.5 321.8V326.3M1404.5 322.9V334.5M1414.5 307.5V323.2M1417.5 318.1V324.5M1420.5 320.5V350.2M1430.5 311.1V327.3M1437.5 322.5V330.2M1441.5 323.1V343M1444.5 339.5V365.9M1447.5 363.4V372.8M1457.5 348V356.5M1467.5 327.8V338.3M1471.5 333.4V343.8M1477.5 290.6V321.7M1487.5 272.6V323.7M1491.5 315V332.7M1501.5 328.7V340.9M1504.5 336.2V368.2M1511.5 354V370.4M1518.5 330.4V347.6M1521.5 344.8V382.8M1524.5 359.1V390.6M1531.5 371.7V380.2M1538.5 367.9V409.8M1544.5 398.2V406M1558.5 374.8V395.2M1561.5 362.6V386.6M1565.5 384.3V390.8M1575.5 371.5V381.3M1588.5 336.3V343.1M1591.5 338.6V348.2M1601.5 332.1V343.5M1608.5 330.1V346.5M1615.5 341.8V348.2M1618.5 344.9V372.9M1622.5 365.6V377.3M1628.5 361V400.8M1645.5 355.2V358.5M1669.5 267V300.8M1675.5 280.7V310.9M1679.5 288.4V453.7M1682.5 364.9V393M1692.5 341.2V390.7M1695.5 361.5V388.5M1699.5 375V386.2" stroke="#f23645" stroke-width="1" fill="none"/>
<path d="M11.1 732.6H13.9V735.6H11.1ZM14.1 732.6H16.9V733.6H14.1ZM21.1 723.2H23.9V733.2H21.1ZM25.1 708.8H27.9V723.2H25.1ZM28.1 705H30.9V708.8H28.1ZM38.1 719.4H40.9V720.4H38.1ZM41.1 717.6H43.9V719.4H41.1ZM51.1 728.2H53.9V736.3H51.1ZM61.1 743.9H63.9V746.4H61.1ZM65.1 741.4H67.9V743.9H65.1ZM85.1 760.4H87.9V762H85.1ZM95.1 779.6H97.9V792.7H95.1ZM102.1 780.8H104.9V788.3H102.1ZM108.1 787.7H110.9V791.5H108.1ZM112.1 771.4H114.9V787.7H112.1ZM115.1 771.2H117.9V772.2H115.1ZM132.1 809H134.9V822.8H132.1ZM139.1 821.5H141.9V828.4H139.1ZM142.1 810.9H144.9V821.5H142.1ZM152.1 812.1H154.9V815.9H152.1ZM155.1 800.8H157.9V812.1H155.1ZM159.1 788.3H161.9V800.8H159.1ZM162.1 755.8H164.9V788.3H162.1ZM165.1 754.1H167.9V755.8H165.1ZM175.1 740.7H177.9V762.9H175.1ZM179.1 737.3H181.9V740.7H179.1ZM182.1 729.1H184.9V737.3H182.1ZM196.1 748.6H198.9V751.6H196.1ZM199.1 730.7H201.9V748.6H199.1ZM206.1 728.2H208.9V731.3H206.1ZM219.1 751.4H221.9V757.6H219.1ZM236.1 827.1H238.9V843.4H236.1ZM242.1 781.4H244.9V834.7H242.1ZM256.1 800.5H258.9V805.2H256.1ZM259.1 790.2H261.9V800.5H259.1ZM269.1 804H271.9V815.9H269.1ZM273.1 799.6H275.9V804H273.1ZM279.1 799.6H281.9V807.7H279.1ZM286.1 785.2H288.9V804H286.1ZM293.1 761.4H295.9V792.7H293.1ZM296.1 761.4H298.9V762.4H296.1ZM299.1 761.4H301.9V762.4H299.1ZM313.1 800.2H315.9V803.3H313.1ZM326.1 802.1H328.9V817.7H326.1ZM333.1 810.8H335.9V815.9H333.1ZM343.1 842.5H345.9V844.7H343.1ZM346.1 836.5H348.9V842.5H346.1ZM350.1 819H352.9V836.5H350.1ZM353.1 814.6H355.9V819H353.1ZM360.1 810.2H362.9V816.2H360.1ZM363.1 790.8H365.9V810.2H363.1ZM377.1 792.7H379.9V810.2H377.1ZM380.1 780.2H382.9V792.7H380.1ZM383.1 771.4H385.9V780.2H383.1ZM387.1 769.3H389.9V771.4H387.1ZM390.1 768.6H392.9V769.6H390.1ZM393.1 767H395.9V768.6H393.1ZM400.1 760.1H402.9V768.3H400.1ZM407.1 753.2H409.9V769.5H407.1ZM410.1 748.6H412.9V753.2H410.1ZM414.1 747.6H416.9V748.6H414.1ZM430.1 788.7H432.9V789.7H430.1ZM434.1 778.7H436.9V788.7H434.1ZM440.1 772.4H442.9V778.9H440.1ZM457.1 774.5H459.9V792.4H457.1ZM460.1 769.3H462.9V774.5H460.1ZM467.1 745.7H469.9V770.8H467.1ZM471.1 737.6H473.9V745.7H471.1ZM474.1 733.6H476.9V737.6H474.1ZM481.1 726.6H483.9V734.8H481.1ZM487.1 722.8H489.9V726.7H487.1ZM494.1 735.1H496.9V736.1H494.1ZM501.1 728.6H503.9V741.3H501.1ZM507.1 737.5H509.9V740.1H507.1ZM511.1 726.2H513.9V737.5H511.1ZM514.1 715H516.9V726.2H514.1ZM517.1 692.5H519.9V715H517.1ZM541.1 720H543.9V730H541.1ZM544.1 670H546.9V720H544.1ZM548.1 666.2H550.9V670H548.1ZM551.1 662.5H553.9V666.2H551.1ZM554.1 660H556.9V662.5H554.1ZM558.1 630H560.9V660H558.1ZM561.1 564.5H563.9V630H561.1ZM568.1 549.8H570.9V567.8H568.1ZM578.1 544.2H580.9V573.5H578.1ZM585.1 547.6H587.9V553.2H585.1ZM588.1 533H590.9V547.6H588.1ZM591.1 516.1H593.9V533H591.1ZM595.1 483.5H597.9V516.1H595.1ZM598.1 480.1H600.9V483.5H598.1ZM615.1 504.8H617.9V536.3H615.1ZM621.1 491.4H623.9V506H621.1ZM628.1 493.6H630.9V500.3H628.1ZM635.1 502.6H637.9V503.7H635.1ZM638.1 482.4H640.9V502.6H638.1ZM645.1 472.2H647.9V495.9H645.1ZM648.1 472.2H650.9V473.2H648.1ZM652.1 462.1H654.9V472.2H652.1ZM662.1 462.1H664.9V498.1H662.1ZM668.1 458.7H670.9V471.1H668.1ZM675.1 434H677.9V459.9H675.1ZM678.1 421.6H680.9V434H678.1ZM682.1 420.5H684.9V421.6H682.1ZM692.1 488H694.9V490.2H692.1ZM705.1 480.1H707.9V512.7H705.1ZM709.1 474.5H711.9V480.1H709.1ZM719.1 509.3H721.9V517.2H719.1ZM729.1 525.1H731.9V529.6H729.1ZM732.1 515H734.9V525.1H732.1ZM735.1 495.9H737.9V515H735.1ZM739.1 484.6H741.9V495.9H739.1ZM745.1 484.6H747.9V485.6H745.1ZM749.1 452H751.9V484.6H749.1ZM762.1 513.8H764.9V531.8H762.1ZM772.1 516.1H774.9V517.1H772.1ZM776.1 498.1H778.9V516.1H776.1ZM779.1 466.6H781.9V498.1H779.1ZM786.1 438.5H788.9V471.1H786.1ZM789.1 434H791.9V438.5H789.1ZM796.1 452H798.9V461H796.1ZM799.1 421.6H801.9V452H799.1ZM806.1 439.6H808.9V440.7H806.1ZM809.1 431.7H811.9V439.6H809.1ZM826.1 440.7H828.9V459.9H826.1ZM829.1 432.2H831.9V440.7H829.1ZM843.1 459.9H845.9V490.2H843.1ZM856.1 499.2H858.9V500.2H856.1ZM859.1 499.2H861.9V500.2H859.1ZM863.1 495.9H865.9V499.2H863.1ZM866.1 492.5H868.9V495.9H866.1ZM873.1 488H875.9V504.8H873.1ZM880.1 494.2H882.9V498.1H880.1ZM883.1 490.2H885.9V494.2H883.1ZM896.1 498.1H898.9V504.8H896.1ZM900.1 484.6H902.9V498.1H900.1ZM906.1 500.3H908.9V501.5H906.1ZM923.1 597.1H925.9V598.2H923.1ZM927.1 596H929.9V597.1H927.1ZM930.1 583.6H932.9V596H930.1ZM933.1 517.2H935.9V583.6H933.1ZM940.1 575.7H942.9V582.5H940.1ZM943.1 547.6H945.9V575.7H943.1ZM963.1 609.5H965.9V645.4H963.1ZM967.1 603.8H969.9V609.5H967.1ZM973.1 599.3H975.9V625.2H973.1ZM977.1 597.1H979.9V599.3H977.1ZM984.1 600.5H986.9V612.8H984.1ZM990.1 578H992.9V611.7H990.1ZM1004.1 583.6H1006.9V602.3H1004.1ZM1007.1 572.3H1009.9V583.6H1007.1ZM1017.1 576H1019.9V577.1H1017.1ZM1030.1 613.1H1032.9V614.1H1030.1ZM1034.1 590.6H1036.9V613.1H1034.1ZM1041.1 607.4H1043.9V611.9H1041.1ZM1044.1 601.8H1046.9V607.4H1044.1ZM1054.1 640.1H1056.9V645.7H1054.1ZM1061.1 611.9H1063.9V674.9H1061.1ZM1067.1 605.2H1069.9V637.8H1067.1ZM1071.1 589.5H1073.9V605.2H1071.1ZM1077.1 595.1H1079.9V602.9H1077.1ZM1084.1 600.7H1086.9V602.9H1084.1ZM1087.1 593.9H1089.9V600.7H1087.1ZM1094.1 593.9H1096.9V596.2H1094.1ZM1098.1 591.7H1100.9V593.9H1098.1ZM1101.1 571.5H1103.9V591.7H1101.1ZM1104.1 524.2H1106.9V571.5H1104.1ZM1108.1 523.1H1110.9V524.2H1108.1ZM1111.1 519.7H1113.9V523.1H1111.1ZM1114.1 514.1H1116.9V519.7H1114.1ZM1118.1 514.1H1120.9V515.1H1118.1ZM1124.1 510.7H1126.9V520.8H1124.1ZM1134.1 499.5H1136.9V517.5H1134.1ZM1138.1 496.1H1140.9V499.5H1138.1ZM1148.1 513H1150.9V517.5H1148.1ZM1151.1 496.1H1153.9V513H1151.1ZM1155.1 495H1157.9V496.1H1155.1ZM1158.1 444.4H1160.9V495H1158.1ZM1165.1 432H1167.9V446.6H1165.1ZM1175.1 437.6H1177.9V448.9H1175.1ZM1191.1 418.5H1193.9V445.5H1191.1ZM1198.1 415.1H1200.9V425.2H1198.1ZM1201.1 392.6H1203.9V415.1H1201.1ZM1205.1 375.7H1207.9V392.6H1205.1ZM1212.1 408.4H1214.9V411.7H1212.1ZM1215.1 398.2H1217.9V408.4H1215.1ZM1218.1 394.9H1220.9V398.2H1218.1ZM1235.1 434.2H1237.9V438.7H1235.1ZM1238.1 425.2H1240.9V434.2H1238.1ZM1242.1 424.1H1244.9V425.2H1242.1ZM1255.1 436.5H1257.9V459H1255.1ZM1258.1 426.4H1260.9V436.5H1258.1ZM1262.1 425.2H1264.9V426.4H1262.1ZM1265.1 387H1267.9V425.2H1265.1ZM1269.1 387H1271.9V388H1269.1ZM1279.1 420.7H1281.9V425.2H1279.1ZM1285.1 425.2H1287.9V426.4H1285.1ZM1289.1 416.2H1291.9V425.2H1289.1ZM1295.1 432H1297.9V434.2H1295.1ZM1312.1 427.5H1314.9V463.5H1312.1ZM1315.1 421.9H1317.9V427.5H1315.1ZM1319.1 411.7H1321.9V421.9H1319.1ZM1329.1 411.7H1331.9V414H1329.1ZM1332.1 402.7H1334.9V411.7H1332.1ZM1342.1 399.7H1344.9V426.7H1342.1ZM1346.1 393H1348.9V399.7H1346.1ZM1352.1 405.3H1354.9V406.3H1352.1ZM1356.1 397.5H1358.9V405.3H1356.1ZM1362.1 398.6H1364.9V404.2H1362.1ZM1366.1 380.6H1368.9V398.6H1366.1ZM1369.1 341.2H1371.9V380.6H1369.1ZM1372.1 330H1374.9V341.2H1372.1ZM1376.1 328.9H1378.9V330H1376.1ZM1379.1 316.5H1381.9V328.9H1379.1ZM1383.1 310.9H1385.9V316.5H1383.1ZM1389.1 319.9H1391.9V326.6H1389.1ZM1393.1 315.4H1395.9V319.9H1393.1ZM1406.1 326.6H1408.9V330H1406.1ZM1409.1 308.6H1411.9V326.6H1409.1ZM1423.1 325.5H1425.9V327.7H1423.1ZM1426.1 313.1H1428.9V325.5H1426.1ZM1433.1 324.4H1435.9V325.4H1433.1ZM1450.1 355.9H1452.9V370.5H1450.1ZM1453.1 350.2H1455.9V355.9H1453.1ZM1460.1 350.2H1462.9V355.9H1460.1ZM1463.1 330H1465.9V350.2H1463.1ZM1473.1 315.4H1475.9V336.7H1473.1ZM1480.1 307.5H1482.9V318.7H1480.1ZM1483.1 281.6H1485.9V307.5H1483.1ZM1493.1 330H1495.9V331H1493.1ZM1497.1 330H1499.9V331H1497.1ZM1507.1 354.7H1509.9V366H1507.1ZM1513.1 333.4H1515.9V369.3H1513.1ZM1527.1 376.1H1529.9V389.6H1527.1ZM1533.1 369.3H1535.9V378.3H1533.1ZM1540.1 399.7H1542.9V403.1H1540.1ZM1547.1 395.2H1549.9V403.1H1547.1ZM1550.1 377.2H1552.9V395.2H1550.1ZM1554.1 376.1H1556.9V377.2H1554.1ZM1567.1 382.8H1569.9V388.5H1567.1ZM1570.1 373.8H1572.9V382.8H1570.1ZM1577.1 357H1579.9V377.2H1577.1ZM1580.1 345.7H1582.9V357H1580.1ZM1584.1 341.2H1586.9V345.7H1584.1ZM1594.1 335.6H1596.9V345.7H1594.1ZM1597.1 335.6H1599.9V336.6H1597.1ZM1604.1 332.2H1606.9V336.7H1604.1ZM1611.1 343.9H1613.9V344.9H1611.1ZM1624.1 362.6H1626.9V372.7H1624.1ZM1631.1 393H1633.9V398.6H1631.1ZM1634.1 392.5H1636.9V393.5H1634.1ZM1637.1 372.7H1639.9V392.5H1637.1ZM1641.1 355.9H1643.9V372.7H1641.1ZM1647.1 321H1649.9V357H1647.1ZM1651.1 305.2H1653.9V321H1651.1ZM1654.1 290.6H1656.9V305.2H1654.1ZM1657.1 289.5H1659.9V290.6H1657.1ZM1661.1 280.5H1663.9V289.5H1661.1ZM1664.1 271.5H1666.9V280.5H1664.1ZM1671.1 281.6H1673.9V298.5H1671.1ZM1684.1 348H1686.9V385.1H1684.1ZM1688.1 346.9H1690.9V348H1688.1Z" fill="#089981"/>
<path d="M18.1 732.6H20.9V733.6H18.1ZM31.1 705H33.9V707.5H31.1ZM35.1 707.5H37.9V720.1H35.1ZM45.1 717.6H47.9V718.6H45.1ZM48.1 717.8H50.9V736.3H48.1ZM55.1 728.2H57.9V740.1H55.1ZM58.1 740.1H60.9V746.4H58.1ZM68.1 741.4H70.9V742.6H68.1ZM71.1 742.6H73.9V753.9H71.1ZM75.1 753.9H77.9V755.1H75.1ZM78.1 755.1H80.9V756.1H78.1ZM82.1 755.4H84.9V762H82.1ZM88.1 760.4H90.9V769.5H88.1ZM92.1 769.5H94.9V792.7H92.1ZM98.1 779.6H100.9V788.3H98.1ZM105.1 780.8H107.9V791.5H105.1ZM118.1 771.2H120.9V777.7H118.1ZM122.1 777.7H124.9V794H122.1ZM125.1 794H127.9V820.3H125.1ZM128.1 820.3H130.9V822.8H128.1ZM135.1 809H137.9V828.4H135.1ZM145.1 810.9H147.9V813.4H145.1ZM149.1 813.4H151.9V815.9H149.1ZM169.1 754.1H171.9V762.6H169.1ZM172.1 762.6H174.9V763.6H172.1ZM185.1 729.1H187.9V733.2H185.1ZM189.1 733.2H191.9V747.6H189.1ZM192.1 747.6H194.9V751.6H192.1ZM202.1 730.7H204.9V731.7H202.1ZM209.1 728.2H211.9V740.1H209.1ZM212.1 740.1H214.9V745.7H212.1ZM216.1 745.7H218.9V757.6H216.1ZM222.1 751.4H224.9V783.9H222.1ZM226.1 783.9H228.9V788.9H226.1ZM229.1 788.9H231.9V810.2H229.1ZM232.1 810.2H234.9V843.4H232.1ZM239.1 827.1H241.9V834.7H239.1ZM246.1 781.4H248.9V786.4H246.1ZM249.1 786.4H251.9V787.4H249.1ZM253.1 787.1H255.9V805.2H253.1ZM263.1 790.2H265.9V805.8H263.1ZM266.1 805.8H268.9V815.9H266.1ZM276.1 799.6H278.9V807.7H276.1ZM283.1 799.6H285.9V804H283.1ZM289.1 785.2H291.9V792.7H289.1ZM303.1 761.4H305.9V772.6H303.1ZM306.1 772.6H308.9V799.6H306.1ZM310.1 799.6H312.9V803.3H310.1ZM316.1 800.2H318.9V802.7H316.1ZM320.1 802.7H322.9V803.7H320.1ZM323.1 803.3H325.9V817.7H323.1ZM330.1 802.1H332.9V815.9H330.1ZM336.1 810.8H338.9V826.5H336.1ZM340.1 826.5H342.9V844.7H340.1ZM357.1 814.6H359.9V816.2H357.1ZM367.1 790.8H369.9V798.9H367.1ZM370.1 798.9H372.9V803.3H370.1ZM373.1 803.3H375.9V810.2H373.1ZM397.1 767H399.9V768.3H397.1ZM403.1 760.1H405.9V769.5H403.1ZM417.1 747.6H419.9V749.1H417.1ZM420.1 749.1H422.9V768.3H420.1ZM424.1 768.3H426.9V788.3H424.1ZM427.1 788.3H429.9V789.3H427.1ZM437.1 778.7H439.9V779.7H437.1ZM444.1 772.4H446.9V776.7H444.1ZM447.1 776.7H449.9V777.9H447.1ZM450.1 777.9H452.9V790.8H450.1ZM454.1 790.8H456.9V792.4H454.1ZM464.1 769.3H466.9V770.8H464.1ZM477.1 733.6H479.9V734.8H477.1ZM484.1 726.6H486.9V727.6H484.1ZM491.1 722.8H493.9V735.4H491.1ZM497.1 735.1H499.9V741.3H497.1ZM504.1 728.6H506.9V740.1H504.1ZM521.1 692.5H523.9V695H521.1ZM524.1 695H526.9V705H524.1ZM528.1 705H530.9V715H528.1ZM531.1 715H533.9V720H531.1ZM534.1 720H536.9V725H534.1ZM538.1 725H540.9V730H538.1ZM564.1 564.5H566.9V567.8H564.1ZM571.1 549.8H573.9V561.6H571.1ZM574.1 561.6H576.9V573.5H574.1ZM581.1 544.2H583.9V553.2H581.1ZM601.1 480.1H603.9V482.4H601.1ZM605.1 482.4H607.9V488H605.1ZM608.1 488H610.9V527.3H608.1ZM611.1 527.3H613.9V536.3H611.1ZM618.1 504.8H620.9V506H618.1ZM625.1 491.4H627.9V500.3H625.1ZM631.1 493.6H633.9V503.7H631.1ZM642.1 482.4H644.9V495.9H642.1ZM655.1 462.1H657.9V492.5H655.1ZM658.1 492.5H660.9V498.1H658.1ZM665.1 462.1H667.9V471.1H665.1ZM672.1 458.7H674.9V459.9H672.1ZM685.1 420.5H687.9V468.9H685.1ZM688.1 468.9H690.9V490.2H688.1ZM695.1 488H697.9V492.5H695.1ZM699.1 492.5H701.9V510.5H699.1ZM702.1 510.5H704.9V512.7H702.1ZM712.1 474.5H714.9V504.8H712.1ZM715.1 504.8H717.9V517.2H715.1ZM722.1 509.3H724.9V522.8H722.1ZM725.1 522.8H727.9V529.6H725.1ZM742.1 484.6H744.9V485.6H742.1ZM752.1 452H754.9V494.7H752.1ZM756.1 494.7H758.9V512.7H756.1ZM759.1 512.7H761.9V531.8H759.1ZM766.1 513.8H768.9V515H766.1ZM769.1 515H771.9V516.1H769.1ZM782.1 466.6H784.9V471.1H782.1ZM792.1 434H794.9V461H792.1ZM802.1 421.6H804.9V440.7H802.1ZM813.1 431.7H815.9V432.7H813.1ZM816.1 432.2H818.9V449.7H816.1ZM819.1 449.7H821.9V454.2H819.1ZM823.1 454.2H825.9V459.9H823.1ZM833.1 432.2H835.9V450.9H833.1ZM836.1 450.9H838.9V465.5H836.1ZM839.1 465.5H841.9V490.2H839.1ZM846.1 459.9H848.9V489.1H846.1ZM849.1 489.1H851.9V498.1H849.1ZM853.1 498.1H855.9V499.2H853.1ZM870.1 492.5H872.9V504.8H870.1ZM876.1 488H878.9V498.1H876.1ZM886.1 490.2H888.9V501.5H886.1ZM890.1 501.5H892.9V503.7H890.1ZM893.1 503.7H895.9V504.8H893.1ZM903.1 484.6H905.9V501.5H903.1ZM910.1 500.3H912.9V501.5H910.1ZM913.1 501.5H915.9V539.7H913.1ZM916.1 539.7H918.9V562.2H916.1ZM920.1 562.2H922.9V598.2H920.1ZM937.1 517.2H939.9V582.5H937.1ZM947.1 547.6H949.9V552.1H947.1ZM950.1 552.1H952.9V578H950.1ZM953.1 578H955.9V581.3H953.1ZM957.1 581.3H959.9V627.4H957.1ZM960.1 627.4H962.9V645.4H960.1ZM970.1 603.8H972.9V625.2H970.1ZM980.1 597.1H982.9V612.8H980.1ZM987.1 600.5H989.9V611.7H987.1ZM994.1 578H996.9V598.2H994.1ZM997.1 598.2H999.9V601.6H997.1ZM1000.1 601.6H1002.9V602.6H1000.1ZM1010.1 572.3H1012.9V573.3H1010.1ZM1014.1 572.6H1016.9V577.1H1014.1ZM1020.1 576H1022.9V596.2H1020.1ZM1024.1 596.2H1026.9V611.9H1024.1ZM1027.1 611.9H1029.9V613.1H1027.1ZM1037.1 590.6H1039.9V611.9H1037.1ZM1047.1 601.8H1049.9V604.1H1047.1ZM1051.1 604.1H1053.9V645.7H1051.1ZM1057.1 640.1H1059.9V674.9H1057.1ZM1064.1 611.9H1066.9V637.8H1064.1ZM1074.1 589.5H1076.9V602.9H1074.1ZM1081.1 595.1H1083.9V602.9H1081.1ZM1091.1 593.9H1093.9V596.2H1091.1ZM1121.1 514.1H1123.9V520.8H1121.1ZM1128.1 510.7H1130.9V511.7H1128.1ZM1131.1 511.2H1133.9V517.5H1131.1ZM1141.1 496.1H1143.9V504H1141.1ZM1144.1 504H1146.9V517.5H1144.1ZM1161.1 444.4H1163.9V446.6H1161.1ZM1168.1 432H1170.9V437.6H1168.1ZM1171.1 437.6H1173.9V448.9H1171.1ZM1178.1 437.6H1180.9V438.7H1178.1ZM1181.1 438.7H1183.9V440.5H1181.1ZM1185.1 440.5H1187.9V443.2H1185.1ZM1188.1 443.2H1190.9V445.5H1188.1ZM1195.1 418.5H1197.9V425.2H1195.1ZM1208.1 375.7H1210.9V411.7H1208.1ZM1222.1 394.9H1224.9V396H1222.1ZM1225.1 396H1227.9V408.4H1225.1ZM1228.1 408.4H1230.9V425.2H1228.1ZM1232.1 425.2H1234.9V438.7H1232.1ZM1245.1 424.1H1247.9V426.4H1245.1ZM1248.1 426.4H1250.9V434.2H1248.1ZM1252.1 434.2H1254.9V459H1252.1ZM1272.1 387H1274.9V401.6H1272.1ZM1275.1 401.6H1277.9V425.2H1275.1ZM1282.1 420.7H1284.9V426.4H1282.1ZM1292.1 416.2H1294.9V434.2H1292.1ZM1299.1 432H1301.9V433.1H1299.1ZM1302.1 433.1H1304.9V445.5H1302.1ZM1305.1 445.5H1307.9V453.4H1305.1ZM1309.1 453.4H1311.9V463.5H1309.1ZM1322.1 411.7H1324.9V412.9H1322.1ZM1326.1 412.9H1328.9V414H1326.1ZM1336.1 402.7H1338.9V414H1336.1ZM1339.1 414H1341.9V426.7H1339.1ZM1349.1 393H1351.9V405.3H1349.1ZM1359.1 397.5H1361.9V404.2H1359.1ZM1386.1 310.9H1388.9V326.6H1386.1ZM1396.1 315.4H1398.9V324.4H1396.1ZM1399.1 324.4H1401.9V325.5H1399.1ZM1403.1 325.5H1405.9V330H1403.1ZM1413.1 308.6H1415.9V318.7H1413.1ZM1416.1 318.7H1418.9V322.1H1416.1ZM1419.1 322.1H1421.9V327.7H1419.1ZM1429.1 313.1H1431.9V324.4H1429.1ZM1436.1 324.4H1438.9V325.5H1436.1ZM1440.1 325.5H1442.9V342.4H1440.1ZM1443.1 342.4H1445.9V364.8H1443.1ZM1446.1 364.8H1448.9V370.5H1446.1ZM1456.1 350.2H1458.9V355.9H1456.1ZM1466.1 330H1468.9V335.6H1466.1ZM1470.1 335.6H1472.9V336.7H1470.1ZM1476.1 315.4H1478.9V318.7H1476.1ZM1486.1 281.6H1488.9V322.1H1486.1ZM1490.1 322.1H1492.9V330H1490.1ZM1500.1 330H1502.9V339H1500.1ZM1503.1 339H1505.9V366H1503.1ZM1510.1 354.7H1512.9V369.3H1510.1ZM1517.1 333.4H1519.9V345.7H1517.1ZM1520.1 345.7H1522.9V361.5H1520.1ZM1523.1 361.5H1525.9V389.6H1523.1ZM1530.1 376.1H1532.9V378.3H1530.1ZM1537.1 369.3H1539.9V403.1H1537.1ZM1543.1 399.7H1545.9V403.1H1543.1ZM1557.1 376.1H1559.9V384H1557.1ZM1560.1 384H1562.9V385.1H1560.1ZM1564.1 385.1H1566.9V388.5H1564.1ZM1574.1 373.8H1576.9V377.2H1574.1ZM1587.1 341.2H1589.9V342.4H1587.1ZM1590.1 342.4H1592.9V345.7H1590.1ZM1600.1 335.6H1602.9V336.7H1600.1ZM1607.1 332.2H1609.9V344.6H1607.1ZM1614.1 343.9H1616.9V346.9H1614.1ZM1617.1 346.9H1619.9V368.2H1617.1ZM1621.1 368.2H1623.9V372.7H1621.1ZM1627.1 362.6H1629.9V398.6H1627.1ZM1644.1 355.9H1646.9V357H1644.1ZM1668.1 271.5H1670.9V298.5H1668.1ZM1674.1 281.6H1676.9V295.1H1674.1ZM1678.1 295.1H1680.9V368.2H1678.1ZM1681.1 368.2H1683.9V385.1H1681.1ZM1691.1 346.9H1693.9V364.8H1691.1ZM1694.1 364.8H1696.9V382.8H1694.1ZM1698.1 382.8H1700.9V385.1H1698.1Z" fill="#f23645"/>
<path d="M15.5 748 L17.5 747.1 L19.5 746.1 L21.5 745.3 L23.5 744.4 L25.5 743.6 L27.5 742.8 L29.5 742.1 L31.5 741.4 L33.5 740.7 L35.5 740.1 L37.5 739.6 L39.5 739.2 L41.5 738.8 L43.5 738.5 L45.5 738.2 L47.5 738.1 L49.5 738 L51.5 738 L53.5 738 L55.5 738 L57.5 738 L59.5 738 L61.5 738 L63.5 738 L65.5 738 L67.5 738 L69.5 738 L71.5 738 L73.5 738.2 L75.5 738.6 L77.5 739 L79.5 739.5 L81.5 740 L83.5 740.6 L85.5 741.1 L87.5 741.8 L89.5 742.5 L91.5 743.3 L93.5 744.1 L95.5 745 L97.5 745.9 L99.5 746.8 L101.5 747.7 L103.5 748.5 L105.5 749.4 L107.5 750.3 L109.5 751.3 L111.5 752.3 L113.5 753.2 L115.5 754.3 L117.5 755.3 L119.5 756.4 L121.5 757.6 L123.5 758.7 L125.5 759.9 L127.5 761.1 L129.5 762.2 L131.5 763.4 L133.5 764.6 L135.5 765.8 L137.5 767.1 L139.5 768.3 L141.5 769.4 L143.5 770.4 L145.5 771.2 L147.5 772 L149.5 772.8 L151.5 773.6 L153.5 774.3 L155.5 774.9 L157.5 775.3 L159.5 775.5 L161.5 775.4 L163.5 775.2 L165.5 774.9 L167.5 774.5 L169.5 774 L171.5 773.4 L173.5 772.9 L175.5 772.4 L177.5 771.8 L179.5 771.2 L181.5 770.5 L183.5 769.8 L185.5 769.1 L187.5 768.4 L189.5 767.7 L191.5 767 L193.5 766.3 L195.5 765.5 L197.5 764.8 L199.5 764.1 L201.5 763.4 L203.5 762.9 L205.5 762.4 L207.5 761.9 L209.5 761.5 L211.5 761 L213.5 760.6 L215.5 760.3 L217.5 760.1 L219.5 760 L221.5 760.1 L223.5 760.7 L225.5 761.6 L227.5 762.7 L229.5 763.7 L231.5 764.9 L233.5 766.2 L235.5 767.7 L237.5 769.1 L239.5 770.3 L241.5 771.1 L243.5 771.8 L245.5 772.4 L247.5 773 L249.5 773.5 L251.5 774.1 L253.5 774.6 L255.5 775.1 L257.5 775.7 L259.5 776.3 L261.5 776.9 L263.5 777.5 L265.5 778.1 L267.5 778.7 L269.5 779.2 L271.5 779.7 L273.5 780.2 L275.5 780.6 L277.5 781 L279.5 781.5 L281.5 781.9 L283.5 782.2 L285.5 782.4 L287.5 782.5 L289.5 782.4 L291.5 782.3 L293.5 782.1 L295.5 781.8 L297.5 781.6 L299.5 781.3 L301.5 781.1 L303.5 781 L305.5 781 L307.5 781.2 L309.5 781.5 L311.5 781.9 L313.5 782.5 L315.5 783.1 L317.5 783.7 L319.5 784.4 L321.5 785 L323.5 785.6 L325.5 786.3 L327.5 787.1 L329.5 787.9 L331.5 788.7 L333.5 789.4 L335.5 790.2 L337.5 791 L339.5 791.8 L341.5 792.6 L343.5 793.4 L345.5 794.2 L347.5 794.8 L349.5 795.4 L351.5 795.8 L353.5 796.3 L355.5 796.8 L357.5 797.2 L359.5 797.5 L361.5 797.8 L363.5 798 L365.5 798 L367.5 798 L369.5 797.9 L371.5 797.9 L373.5 797.8 L375.5 797.7 L377.5 797.6 L379.5 797.5 L381.5 797.3 L383.5 797 L385.5 796.4 L387.5 795.8 L389.5 795 L391.5 794.3 L393.5 793.5 L395.5 792.8 L397.5 792.1 L399.5 791.4 L401.5 790.6 L403.5 789.8 L405.5 789 L407.5 788.3 L409.5 787.6 L411.5 787.1 L413.5 786.5 L415.5 785.9 L417.5 785.4 L419.5 784.9 L421.5 784.5 L423.5 784.2 L425.5 784 L427.5 783.8 L429.5 783.7 L431.5 783.6 L433.5 783.4 L435.5 783.4 L437.5 783.3 L439.5 783.2 L441.5 783.1 L443.5 783.1 L445.5 783 L447.5 782.9 L449.5 782.9 L451.5 782.8 L453.5 782.8 L455.5 782.7 L457.5 782.7 L459.5 782.6 L461.5 782.5 L463.5 782.3 L465.5 781.7 L467.5 780.9 L469.5 779.9 L471.5 778.8 L473.5 777.7 L475.5 776.8 L477.5 775.9 L479.5 774.9 L481.5 774 L483.5 773 L485.5 772.1 L487.5 771.1 L489.5 770.2 L491.5 769.3 L493.5 768.5 L495.5 767.7 L497.5 766.9 L499.5 766.2 L501.5 765.4 L503.5 764.5 L505.5 763.7 L507.5 762.7 L509.5 761.7 L511.5 760.6 L513.5 759.3 L515.5 757.9 L517.5 756.5 L519.5 755.1 L521.5 753.9 L523.5 752.7 L525.5 751.8 L527.5 751 L529.5 750.3 L531.5 749.7 L533.5 749 L535.5 748.4 L537.5 747.6 L539.5 746.8 L541.5 745.7 L543.5 744.5 L545.5 743.1 L547.5 741.5 L549.5 739.7 L551.5 737.7 L553.5 735.6 L555.5 733 L557.5 729.8 L559.5 726 L561.5 722.2 L563.5 718.4 L565.5 714.9 L567.5 711.4 L569.5 707.9 L571.5 704.4 L573.5 700.9 L575.5 697.4 L577.5 693.9 L579.5 690.5 L581.5 687 L583.5 683.4 L585.5 679.7 L587.5 675.9 L589.5 672 L591.5 668.2 L593.5 664.4 L595.5 660.9 L597.5 657.5 L599.5 654.4 L601.5 651.3 L603.5 648.4 L605.5 645.4 L607.5 642.4 L609.5 639.2 L611.5 635.9 L613.5 632.4 L615.5 629 L617.5 625.6 L619.5 622.3 L621.5 619.3 L623.5 616.4 L625.5 613.7 L627.5 611.1 L629.5 608.5 L631.5 605.9 L633.5 603.2 L635.5 600.4 L637.5 597.4 L639.5 594.3 L641.5 591.3 L643.5 588.4 L645.5 585.7 L647.5 583.1 L649.5 580.7 L651.5 578.5 L653.5 576.2 L655.5 574 L657.5 571.8 L659.5 569.4 L661.5 566.9 L663.5 564.4 L665.5 561.9 L667.5 559.3 L669.5 556.8 L671.5 554.4 L673.5 551.9 L675.5 549.4 L677.5 546.9 L679.5 544.5 L681.5 542.3 L683.5 540.4 L685.5 538.8 L687.5 537.4 L689.5 536.1 L691.5 534.9 L693.5 533.8 L695.5 532.7 L697.5 531.8 L699.5 530.9 L701.5 530 L703.5 529.2 L705.5 528.5 L707.5 527.9 L709.5 527.4 L711.5 526.9 L713.5 526.6 L715.5 526.2 L717.5 525.9 L719.5 525.6 L721.5 525.3 L723.5 525.1 L725.5 524.8 L727.5 524.7 L729.5 524.5 L731.5 524.3 L733.5 524.1 L735.5 523.7 L737.5 523 L739.5 522.1 L741.5 521 L743.5 520 L745.5 518.9 L747.5 518 L749.5 517.3 L751.5 516.7 L753.5 516 L755.5 515.5 L757.5 515.1 L759.5 515 L761.5 515.1 L763.5 515.2 L765.5 515.4 L767.5 515.6 L769.5 515.8 L771.5 515.9 L773.5 516 L775.5 515.8 L777.5 514.8 L779.5 513.4 L781.5 511.8 L783.5 510.3 L785.5 509 L787.5 507.7 L789.5 506.4 L791.5 505.1 L793.5 503.7 L795.5 502.4 L797.5 501 L799.5 499.7 L801.5 498.3 L803.5 496.9 L805.5 495.5 L807.5 494.1 L809.5 492.8 L811.5 491.5 L813.5 490.3 L815.5 489.1 L817.5 488 L819.5 486.9 L821.5 485.8 L823.5 484.8 L825.5 483.8 L827.5 483 L829.5 482.3 L831.5 481.7 L833.5 481 L835.5 480.4 L837.5 480.1 L839.5 480 L841.5 480 L843.5 480.1 L845.5 480.1 L847.5 480.2 L849.5 480.3 L851.5 480.5 L853.5 480.6 L855.5 480.7 L857.5 480.9 L859.5 481 L861.5 481.3 L863.5 481.6 L865.5 481.9 L867.5 482.3 L869.5 482.7 L871.5 483.2 L873.5 483.7 L875.5 484.2 L877.5 484.7 L879.5 485.1 L881.5 485.5 L883.5 485.9 L885.5 486.2 L887.5 486.5 L889.5 486.8 L891.5 487 L893.5 487.3 L895.5 487.5 L897.5 487.8 L899.5 488.1 L901.5 488.4 L903.5 488.9 L905.5 489.4 L907.5 490.3 L909.5 491.3 L911.5 492.4 L913.5 493.7 L915.5 495 L917.5 496.7 L919.5 498.5 L921.5 500.3 L923.5 502.1 L925.5 503.7 L927.5 505.2 L929.5 506.8 L931.5 508.2 L933.5 509.7 L935.5 511 L937.5 512.2 L939.5 513.4 L941.5 514.6 L943.5 515.9 L945.5 517.2 L947.5 518.5 L949.5 520 L951.5 521.4 L953.5 522.9 L955.5 524.5 L957.5 526.2 L959.5 528 L961.5 529.9 L963.5 532.1 L965.5 534.4 L967.5 536.6 L969.5 538.7 L971.5 540.4 L973.5 542 L975.5 543.4 L977.5 544.8 L979.5 546.1 L981.5 547.4 L983.5 548.7 L985.5 550 L987.5 551.3 L989.5 552.7 L991.5 553.9 L993.5 555 L995.5 555.8 L997.5 556.4 L999.5 556.9 L1001.5 557.3 L1003.5 557.7 L1005.5 558 L1007.5 558.4 L1009.5 558.9 L1011.5 559.4 L1013.5 560 L1015.5 560.6 L1017.5 561.3 L1019.5 562 L1021.5 562.8 L1023.5 563.6 L1025.5 564.5 L1027.5 565.4 L1029.5 566.3 L1031.5 567.4 L1033.5 568.4 L1035.5 569.5 L1037.5 570.7 L1039.5 571.8 L1041.5 573 L1043.5 574.3 L1045.5 575.7 L1047.5 577.1 L1049.5 578.4 L1051.5 579.7 L1053.5 580.8 L1055.5 581.8 L1057.5 582.8 L1059.5 583.6 L1061.5 584.5 L1063.5 585.2 L1065.5 585.9 L1067.5 586.5 L1069.5 586.9 L1071.5 587.3 L1073.5 587.7 L1075.5 588 L1077.5 588.3 L1079.5 588.5 L1081.5 588.8 L1083.5 589 L1085.5 589.1 L1087.5 589.3 L1089.5 589.5 L1091.5 589.6 L1093.5 589.8 L1095.5 589.9 L1097.5 590 L1099.5 590 L1101.5 589.7 L1103.5 588.5 L1105.5 586.8 L1107.5 585 L1109.5 583.4 L1111.5 582 L1113.5 580.5 L1115.5 579 L1117.5 577.5 L1119.5 576 L1121.5 574.5 L1123.5 573 L1125.5 571.5 L1127.5 570 L1129.5 568.5 L1131.5 567 L1133.5 565.5 L1135.5 564 L1137.5 562.5 L1139.5 561 L1141.5 559.5 L1143.5 558.1 L1145.5 556.6 L1147.5 555.1 L1149.5 553.5 L1151.5 551.9 L1153.5 550.3 L1155.5 548.7 L1157.5 547 L1159.5 545.3 L1161.5 543.4 L1163.5 541.5 L1165.5 539.4 L1167.5 537.1 L1169.5 534.7 L1171.5 532.3 L1173.5 529.9 L1175.5 527.6 L1177.5 525.4 L1179.5 523.4 L1181.5 521.5 L1183.5 519.5 L1185.5 517.6 L1187.5 515.6 L1189.5 513.5 L1191.5 511.3 L1193.5 509 L1195.5 506.5 L1197.5 504.1 L1199.5 501.6 L1201.5 499.2 L1203.5 497 L1205.5 494.9 L1207.5 492.8 L1209.5 490.7 L1211.5 488.7 L1213.5 486.8 L1215.5 485 L1217.5 483.3 L1219.5 481.6 L1221.5 480 L1223.5 478.4 L1225.5 476.9 L1227.5 475.5 L1229.5 474.2 L1231.5 473 L1233.5 471.9 L1235.5 470.9 L1237.5 470 L1239.5 469.1 L1241.5 468.1 L1243.5 467.2 L1245.5 466.3 L1247.5 465.4 L1249.5 464.6 L1251.5 463.7 L1253.5 462.9 L1255.5 462 L1257.5 461 L1259.5 459.9 L1261.5 458.8 L1263.5 457.5 L1265.5 456.3 L1267.5 455.1 L1269.5 454.1 L1271.5 453.2 L1273.5 452.4 L1275.5 451.7 L1277.5 451.1 L1279.5 450.5 L1281.5 449.9 L1283.5 449.3 L1285.5 448.7 L1287.5 448 L1289.5 447.3 L1291.5 446.7 L1293.5 446.1 L1295.5 445.7 L1297.5 445.5 L1299.5 445.5 L1301.5 445.5 L1303.5 445.5 L1305.5 445.5 L1307.5 445.5 L1309.5 445.5 L1311.5 445.5 L1313.5 445.3 L1315.5 444.8 L1317.5 444.1 L1319.5 443.3 L1321.5 442.4 L1323.5 441.5 L1325.5 440.8 L1327.5 440.2 L1329.5 439.5 L1331.5 438.9 L1333.5 438.2 L1335.5 437.5 L1337.5 436.8 L1339.5 436.1 L1341.5 435.4 L1343.5 434.7 L1345.5 434 L1347.5 433.3 L1349.5 432.5 L1351.5 431.8 L1353.5 431 L1355.5 430.3 L1357.5 429.6 L1359.5 428.9 L1361.5 428.2 L1363.5 427.4 L1365.5 426.4 L1367.5 425.3 L1369.5 423.7 L1371.5 421.7 L1373.5 419.4 L1375.5 416.9 L1377.5 414.4 L1379.5 412.1 L1381.5 410 L1383.5 407.9 L1385.5 405.9 L1387.5 403.9 L1389.5 401.9 L1391.5 399.9 L1393.5 398 L1395.5 396 L1397.5 394.1 L1399.5 392.1 L1401.5 390.2 L1403.5 388.4 L1405.5 386.6 L1407.5 385 L1409.5 383.5 L1411.5 382.1 L1413.5 380.7 L1415.5 379.4 L1417.5 378.2 L1419.5 376.9 L1421.5 375.7 L1423.5 374.3 L1425.5 372.9 L1427.5 371.5 L1429.5 370.2 L1431.5 369.1 L1433.5 368.3 L1435.5 367.8 L1437.5 367.4 L1439.5 367.1 L1441.5 366.9 L1443.5 366.6 L1445.5 366.4 L1447.5 366.1 L1449.5 365.7 L1451.5 365.4 L1453.5 365 L1455.5 364.7 L1457.5 364.3 L1459.5 363.8 L1461.5 363.3 L1463.5 362.7 L1465.5 362 L1467.5 361.3 L1469.5 360.5 L1471.5 359.6 L1473.5 358.7 L1475.5 357.8 L1477.5 356.7 L1479.5 355.5 L1481.5 354.2 L1483.5 353.1 L1485.5 352.2 L1487.5 351.5 L1489.5 350.7 L1491.5 350.1 L1493.5 349.5 L1495.5 349.1 L1497.5 349 L1499.5 349.1 L1501.5 349.2 L1503.5 349.4 L1505.5 349.6 L1507.5 349.8 L1509.5 350 L1511.5 350 L1513.5 350 L1515.5 350 L1517.5 350 L1519.5 350 L1521.5 350 L1523.5 350 L1525.5 350.1 L1527.5 350.5 L1529.5 351.3 L1531.5 352.3 L1533.5 353.4 L1535.5 354.6 L1537.5 355.6 L1539.5 356.5 L1541.5 357.4 L1543.5 358.3 L1545.5 359.2 L1547.5 360 L1549.5 360.8 L1551.5 361.5 L1553.5 362.1 L1555.5 362.8 L1557.5 363.4 L1559.5 364 L1561.5 364.5 L1563.5 364.7 L1565.5 364.8 L1567.5 364.8 L1569.5 364.8 L1571.5 364.8 L1573.5 364.8 L1575.5 364.8 L1577.5 364.8 L1579.5 364.8 L1581.5 364.5 L1583.5 364.1 L1585.5 363.5 L1587.5 362.9 L1589.5 362.2 L1591.5 361.6 L1593.5 361.1 L1595.5 360.5 L1597.5 359.9 L1599.5 359.3 L1601.5 358.8 L1603.5 358.3 L1605.5 358 L1607.5 357.7 L1609.5 357.5 L1611.5 357.3 L1613.5 357.1 L1615.5 357 L1617.5 357 L1619.5 357.3 L1621.5 357.9 L1623.5 358.5 L1625.5 359.2 L1627.5 359.9 L1629.5 360.4 L1631.5 361 L1633.5 361.6 L1635.5 362.2 L1637.5 362.5 L1639.5 362.6 L1641.5 362.3 L1643.5 361.6 L1645.5 360.7 L1647.5 359.6 L1649.5 358.5 L1651.5 357.3 L1653.5 355.7 L1655.5 353.8 L1657.5 351.8 L1659.5 349.8 L1661.5 348.1 L1663.5 346.6 L1665.5 344.9 L1667.5 343.4 L1669.5 342.1 L1671.5 341.2 L1673.5 341 L1675.5 341.1 L1677.5 341.3 L1679.5 341.6 L1681.5 341.9 L1683.5 342.2 L1685.5 342.6 L1687.5 343.1 L1689.5 343.6 L1691.5 344.2 L1693.5 344.9 L1695.5 345.8 L1697.5 346.8 L1698.8 347.5" stroke="#111111" stroke-width="1.65" fill="none" stroke-linejoin="round"/>
<line x1="234.5" y1="882" x2="1816.3" y2="490.8" stroke="#2962ff" stroke-width="2.9" stroke-linecap="round"/>
<line x1="15.2" y1="1060.4" x2="1902" y2="1060.4" stroke="#94979f" stroke-width="0.9" stroke-dasharray="5.4 6.9"/>
<line x1="15.2" y1="1118.4" x2="1902" y2="1118.4" stroke="#94979f" stroke-width="0.9" stroke-dasharray="5.4 6.9"/>
<line x1="15.2" y1="1176.3" x2="1902" y2="1176.3" stroke="#94979f" stroke-width="0.9" stroke-dasharray="5.4 6.9"/>
<path d="M546.2 1060.4 L546.2 1059.7 L549.1 1058.2 L552.5 1054.8 L555.2 1054.1 L558.6 1041.7 L562.2 1017 L565.5 1023.7 L568.2 1019.2 L571.2 1035 L573.4 1047.4 L576.1 1037.2 L578.3 1039.5 L581.7 1047.4 L586.2 1045.1 L589.6 1039 L593 1032.7 L595.7 1024.9 L598.6 1024.2 L602 1032.7 L604.2 1036.1 L606.5 1035 L609.2 1060.4 L609.2 1060.4Z" fill="url(#og)"/>
<rect x="1372.2" y="1037.9" width="20.7" height="20.7" fill="#f48fb1" fill-opacity="0.62"/>
<rect x="1641.4" y="1045" width="36" height="23.7" fill="#f48fb1" fill-opacity="0.62"/>
<path d="M15.3 1108.8 L19.1 1108.8 L22.5 1100.2 L25.9 1085.6 L29.9 1080.4 L33.3 1084.5 L36.7 1102.5 L40 1102.5 L43.9 1099.6 L46.8 1100.7 L49.5 1127.7 L52.4 1117.1 L56.2 1130.6 L59.6 1139.1 L63 1136.2 L65.9 1131.3 L68.6 1132.8 L73.1 1147.5 L76.5 1149.7 L79.2 1150.8 L82.8 1157.6 L86.6 1156 L90 1167.7 L92.9 1189.5 L96.3 1164.3 L100.1 1170 L103.5 1158.7 L106.4 1168.8 L109.8 1157.6 L112.5 1136.2 L116.5 1134.6 L119.2 1139.6 L121.5 1147.5 L126 1180.1 L130.5 1181.9 L133.8 1161 L136.8 1175.6 L140.6 1162.1 L144 1149.7 L147.3 1152 L150.3 1154.7 L154.1 1145.2 L157.5 1134 L160.2 1119.3 L163.1 1084.5 L166.5 1082.7 L169.8 1093.5 L173.7 1094.6 L177 1075.5 L180 1073.2 L183.3 1066 L186.7 1073.2 L189 1082.2 L191.2 1093.5 L193.5 1099.1 L196.4 1095.7 L199.1 1087.9 L201.8 1078.9 L204.7 1078.2 L207.4 1076.2 L209.9 1094.6 L212.6 1099.6 L214.4 1102.5 L217.5 1119.3 L220.5 1111.5 L223.4 1145.2 L226.1 1152 L229.5 1162.1 L231.7 1171.1 L233.9 1186.2 L236.6 1165.5 L239.6 1170 L242.5 1140.7 L244.7 1120 L247.4 1125 L250.8 1124.5 L253.7 1137.3 L257.6 1134 L260.9 1123.8 L264.3 1136.2 L267 1142.5 L271.1 1134 L274.4 1127.7 L277.8 1134 L280.5 1126.1 L283.4 1129 L287.9 1112.6 L291.3 1118.7 L294 1093.5 L301.4 1092.4 L304.1 1102.5 L307.7 1131.3 L310.4 1133.5 L314.9 1130.6 L320.6 1133.5 L323.9 1146.8 L326.9 1128.3 L331.8 1140.7 L334.7 1136.2 L337.4 1147.5 L340.8 1162.8 L344.9 1161 L348.2 1152 L351.4 1130.6 L354.3 1125 L358.1 1127.2 L361 1119.3 L364.4 1099.6 L368.9 1107 L372.3 1113.7 L375.2 1121.6 L377.9 1105.9 L381.3 1092.4 L384.7 1083.4 L389.2 1081.8 L393.7 1079.5 L397.7 1082.7 L402 1074.8 L404.9 1090.8 L408.3 1074.4 L411.2 1069.9 L415.7 1068.7 L418.4 1072.8 L421.1 1096.9 L424.5 1130.6 L428.5 1131.7 L431.9 1130.6 L435.3 1114.8 L438 1114.8 L440.9 1107 L445 1113.7 L448.3 1115.3 L451.7 1132.8 L454.9 1136.7 L458 1122.7 L460.2 1108.1 L462.5 1102 L465.2 1107 L468.1 1076.6 L471.5 1071 L474.9 1066.5 L478.2 1068.7 L480.9 1062 L484.5 1062.4 L488.8 1057.5 L491.7 1083.4 L494.7 1084 L498 1094.6 L500.7 1082.2 L502.5 1080 L505.2 1100.9 L508.6 1097.5 L513.1 1084.5 L516.9 1068.7 L519.2 1053.7 L522.1 1059.7 L525 1085.6 L528.9 1094.2 L532.2 1096.9 L535.6 1104.7 L538.5 1113.7 L541.7 1100.2 L546.2 1059.7 L549.1 1058.2 L552.5 1054.8 L555.2 1054.1 L558.6 1041.7 L562.2 1017 L565.5 1023.7 L568.2 1019.2 L571.2 1035 L573.4 1047.4 L576.1 1037.2 L578.3 1039.5 L581.7 1047.4 L586.2 1045.1 L589.6 1039 L593 1032.7 L595.7 1024.9 L598.6 1024.2 L602 1032.7 L604.2 1036.1 L606.5 1035 L609.2 1076.6 L612.1 1084.5 L616.6 1069.2 L618.8 1069.9 L622.2 1064.2 L625.6 1072.1 L630.1 1068.7 L633.5 1080 L636.2 1080 L639.1 1067.6 L643.6 1081.1 L647 1068.7 L650.3 1068.3 L652.6 1062.7 L656 1094.6 L660 1099.1 L663.2 1077.7 L666.1 1084.5 L669.5 1079.5 L673.5 1079.3 L677.3 1065.4 L680 1059.3 L682.5 1059.7 L685.2 1083.4 L687.5 1102.5 L690.8 1119.3 L693.7 1117.8 L696 1120.5 L699.1 1131.7 L703.2 1134 L706.6 1110.3 L709.5 1106.5 L712.2 1127.2 L716.7 1135.1 L719.6 1129.5 L723 1137.3 L726.1 1142.5 L730.2 1136.2 L733.6 1128.3 L736.9 1113.3 L739.6 1106.3 L743.7 1105.9 L747.1 1104.7 L750 1081.8 L753.1 1118.2 L756.1 1128.3 L760.6 1141.8 L763.9 1127.9 L769.6 1129.5 L774.5 1129.5 L777.4 1111.5 L780.4 1092.4 L783.1 1095.3 L787.6 1075.5 L790.5 1074.4 L793.6 1097.5 L797 1092.4 L801.1 1076.2 L804.9 1092.4 L808.9 1091.2 L811.2 1087.2 L813.4 1087.4 L817.9 1103.6 L820.6 1107.4 L823.5 1113 L826.9 1097.5 L831 1092.4 L834.3 1108.1 L837 1119.3 L840.4 1138.5 L844.5 1116 L847.8 1135.1 L851.2 1140.7 L856.2 1141.2 L864 1141.4 L867 1132.8 L870.1 1143.6 L874.2 1126.1 L876.9 1134 L880.5 1126.8 L883.6 1126.5 L888.1 1136.7 L891 1139.6 L894.4 1140.7 L898.5 1127.2 L901.8 1114.8 L905 1132.2 L907.9 1129.9 L910.6 1132.2 L913.5 1163.2 L916 1173.3 L918.2 1181.2 L920.9 1193.6 L924.3 1188.4 L927.2 1189.8 L930.6 1175.6 L932.2 1154.2 L934.7 1113.7 L937.4 1149.3 L940.7 1143 L945.2 1126.8 L948.6 1129.5 L951.5 1143 L954.2 1144.5 L958.7 1164.3 L962.1 1170 L964.4 1146.3 L968.2 1142.5 L971.1 1151.5 L974.9 1137.3 L978.5 1135.1 L981.7 1141.8 L984.6 1135.1 L988.4 1139.6 L991.8 1118.2 L994.7 1130.6 L998.1 1130.6 L1001.5 1131.7 L1004.9 1119.3 L1008.2 1111.5 L1011.6 1112.6 L1015 1114.8 L1019 1113.3 L1021.7 1129.5 L1025.1 1140.3 L1028.5 1141.8 L1032.5 1140.7 L1035.2 1120.5 L1038.1 1136.9 L1042 1131.7 L1046 1126.1 L1048.7 1128.3 L1051.6 1157.6 L1054.8 1151.5 L1059.3 1165 L1062.2 1122.7 L1065.1 1137.3 L1067.8 1118.2 L1071.2 1108.1 L1076.2 1116.4 L1079.1 1112.1 L1082.5 1117.5 L1089.2 1109.9 L1092.6 1113.3 L1095.5 1109.2 L1098.2 1108.5 L1102 1095.7 L1105.6 1067.2 L1109.5 1065.8 L1115.5 1062 L1118.5 1061.5 L1122.5 1071.4 L1125.2 1064.9 L1128.6 1072.8 L1132.4 1073.7 L1136 1060.9 L1138.7 1059.3 L1142.5 1073.2 L1146.6 1088.3 L1149.3 1085.6 L1152.2 1072.1 L1154.9 1070.5 L1159.4 1042.9 L1162.3 1045.1 L1165.7 1039 L1168.4 1045.1 L1173.6 1061.5 L1176.5 1055.7 L1179.2 1062 L1182.6 1060.9 L1189.8 1068.7 L1192.7 1050.7 L1195.6 1061.5 L1206.2 1035.7 L1209.1 1079.3 L1211.8 1077.7 L1216.3 1071 L1219.7 1068.7 L1223.1 1074.4 L1226.4 1086.7 L1229.4 1104.7 L1233.2 1117.5 L1236.6 1111.5 L1239.3 1104.7 L1242.2 1103.2 L1245.6 1105.9 L1248.3 1109.2 L1250.1 1114.8 L1252.8 1140.3 L1255.7 1117.1 L1260.2 1107 L1263.6 1105.9 L1266.5 1078.4 L1269.6 1078.4 L1273.7 1093.5 L1276.6 1116 L1279.3 1113.3 L1283.1 1118.7 L1286 1117.1 L1290.5 1107 L1293.5 1125.4 L1296.2 1122.7 L1299.1 1124.5 L1302.9 1132.8 L1306.3 1141.8 L1309.7 1152 L1312.6 1113.3 L1316.4 1108.8 L1320.2 1099.6 L1324.3 1102.9 L1327.7 1102 L1331 1100.2 L1334 1092.4 L1337.1 1107 L1340 1118.9 L1342.7 1094.6 L1347.2 1088.5 L1350.1 1104.3 L1353.5 1102.5 L1356.2 1094.6 L1360.7 1104.3 L1363.6 1099.8 L1366.5 1085.6 L1369.2 1056.4 L1373.7 1050.3 L1377.1 1051.2 L1380.5 1043.5 L1382.7 1042.2 L1385 1051.9 L1387.7 1066 L1393.3 1058.2 L1396.7 1072.8 L1399.6 1073.9 L1404.1 1080.4 L1407.5 1079.5 L1410.4 1063.1 L1413.1 1076.6 L1417.6 1081.8 L1421.4 1090.8 L1424.4 1087.9 L1427.3 1076.6 L1431.1 1093.5 L1437.2 1095.7 L1440.1 1118.2 L1443 1141.2 L1448 1147.5 L1451.4 1129.5 L1454.1 1120.9 L1456.5 1129.5 L1461.5 1119.8 L1464.4 1098.7 L1467.1 1106.5 L1470.5 1109.2 L1475 1086.3 L1478.3 1092.4 L1481.3 1081.1 L1484 1064.2 L1486.2 1086.7 L1488.5 1108.1 L1491.4 1114.8 L1497 1114.4 L1500.2 1123.8 L1504.9 1147 L1507.6 1135.1 L1510.5 1145.9 L1513.7 1113 L1517.7 1121.6 L1521.1 1132.8 L1524.5 1151.5 L1527.2 1139.6 L1532.3 1142.5 L1535 1132.8 L1538 1153.8 L1541.3 1150.4 L1545.2 1153.8 L1548.1 1144.1 L1551.5 1130.6 L1554.2 1127.2 L1557.8 1133.3 L1561.6 1133.5 L1565 1137.3 L1570.6 1120.5 L1575.1 1125.4 L1578.4 1107 L1581.8 1094.6 L1585.2 1090.8 L1588.6 1091.7 L1591.9 1098.7 L1594.6 1098.4 L1598 1086.7 L1601.4 1090.1 L1605.4 1085.2 L1608.1 1102.5 L1611.1 1101.8 L1614.4 1108.1 L1618.9 1135.1 L1621.9 1141.2 L1625 1125.6 L1627.9 1158.7 L1631.8 1151.5 L1635.4 1151.3 L1641.4 1107.4 L1645.5 1110.3 L1649.3 1078.9 L1652.2 1068.7 L1654.9 1062 L1657.9 1061.5 L1661.7 1056.4 L1665.1 1050.7 L1668.4 1084.5 L1671.8 1074.4 L1675.9 1087.9 L1679 1143 L1681.9 1150.8 L1685.3 1125.6 L1689.3 1125 L1692.7 1135.1 L1696.1 1144.8 L1698.8 1145.9" stroke="#7e57c2" stroke-width="2.6" fill="none" stroke-linejoin="round" stroke-linecap="round"/>
<line x1="1380.5" y1="1041.3" x2="1484" y2="1064.2" stroke="#f23645" stroke-width="2.6" stroke-linecap="round"/>
<text x="15.9" y="1239.6" font-family="'Liberation Sans', sans-serif" font-size="17" text-anchor="middle" fill="#131722">Jun</text>
<text x="116.5" y="1239.6" font-family="'Liberation Sans', sans-serif" font-size="17" text-anchor="middle" fill="#131722">Jul</text>
<text x="220.5" y="1239.6" font-family="'Liberation Sans', sans-serif" font-size="17" text-anchor="middle" fill="#131722">Aug</text>
<text x="324.4" y="1239.6" font-family="'Liberation Sans', sans-serif" font-size="17" text-anchor="middle" fill="#131722">Sep</text>
<text x="424.7" y="1239.6" font-family="'Liberation Sans', sans-serif" font-size="17" text-anchor="middle" fill="#131722">Oct</text>
<text x="528.9" y="1239.6" font-family="'Liberation Sans', sans-serif" font-size="17" text-anchor="middle" fill="#131722">Nov</text>
<text x="629.4" y="1239.6" font-family="'Liberation Sans', sans-serif" font-size="17" text-anchor="middle" fill="#131722">Dec</text>
<text x="733.6" y="1239.6" font-family="'Liberation Sans', sans-serif" font-size="17" text-anchor="middle" fill="#131722" font-weight="bold" textLength="39.8" lengthAdjust="spacingAndGlyphs">2025</text>
<text x="837.5" y="1239.6" font-family="'Liberation Sans', sans-serif" font-size="17" text-anchor="middle" fill="#131722">Feb</text>
<text x="931.3" y="1239.6" font-family="'Liberation Sans', sans-serif" font-size="17" text-anchor="middle" fill="#131722">Mar</text>
<text x="1035.2" y="1239.6" font-family="'Liberation Sans', sans-serif" font-size="17" text-anchor="middle" fill="#131722">Apr</text>
<text x="1135.8" y="1239.6" font-family="'Liberation Sans', sans-serif" font-size="17" text-anchor="middle" fill="#131722">May</text>
<text x="1240" y="1239.6" font-family="'Liberation Sans', sans-serif" font-size="17" text-anchor="middle" fill="#131722">Jun</text>
<text x="1340.7" y="1239.6" font-family="'Liberation Sans', sans-serif" font-size="17" text-anchor="middle" fill="#131722">Jul</text>
<text x="1444" y="1239.6" font-family="'Liberation Sans', sans-serif" font-size="17" text-anchor="middle" fill="#131722">Aug</text>
<text x="1548" y="1239.6" font-family="'Liberation Sans', sans-serif" font-size="17" text-anchor="middle" fill="#131722">Sep</text>
<text x="1648.6" y="1239.6" font-family="'Liberation Sans', sans-serif" font-size="17" text-anchor="middle" fill="#131722">Oct</text>
<text x="1752.3" y="1239.6" font-family="'Liberation Sans', sans-serif" font-size="17" text-anchor="middle" fill="#131722">Nov</text>
<text x="1853.3" y="1239.6" font-family="'Liberation Sans', sans-serif" font-size="17" text-anchor="middle" fill="#131722">Dec</text>
</g>
<text x="1918.5" y="151.1" font-family="'Liberation Sans', sans-serif" font-size="17" fill="#131722" textLength="88.1" lengthAdjust="spacingAndGlyphs">140,000.00</text>
<text x="1918.5" y="232.1" font-family="'Liberation Sans', sans-serif" font-size="17" fill="#131722" textLength="88.1" lengthAdjust="spacingAndGlyphs">130,000.00</text>
<text x="1918.5" y="313.1" font-family="'Liberation Sans', sans-serif" font-size="17" fill="#131722" textLength="88.1" lengthAdjust="spacingAndGlyphs">120,000.00</text>
<text x="1918.5" y="475.1" font-family="'Liberation Sans', sans-serif" font-size="17" fill="#131722" textLength="88.1" lengthAdjust="spacingAndGlyphs">100,000.00</text>
<text x="1918.5" y="556.1" font-family="'Liberation Sans', sans-serif" font-size="17" fill="#131722" textLength="78.4" lengthAdjust="spacingAndGlyphs">90,000.00</text>
<text x="1918.5" y="637.1" font-family="'Liberation Sans', sans-serif" font-size="17" fill="#131722" textLength="78.4" lengthAdjust="spacingAndGlyphs">80,000.00</text>
<text x="1918.5" y="718.1" font-family="'Liberation Sans', sans-serif" font-size="17" fill="#131722" textLength="78.4" lengthAdjust="spacingAndGlyphs">70,000.00</text>
<text x="1918.5" y="799.1" font-family="'Liberation Sans', sans-serif" font-size="17" fill="#131722" textLength="78.4" lengthAdjust="spacingAndGlyphs">60,000.00</text>
<text x="1918.5" y="880.1" font-family="'Liberation Sans', sans-serif" font-size="17" fill="#131722" textLength="78.4" lengthAdjust="spacingAndGlyphs">50,000.00</text>
<text x="1918.5" y="961.1" font-family="'Liberation Sans', sans-serif" font-size="17" fill="#131722" textLength="78.4" lengthAdjust="spacingAndGlyphs">40,000.00</text>
<text x="1961.8" y="1037.1" font-family="'Liberation Sans', sans-serif" font-size="17" text-anchor="end" fill="#131722" textLength="43.2" lengthAdjust="spacingAndGlyphs">80.00</text>
<text x="1961.8" y="1095.5" font-family="'Liberation Sans', sans-serif" font-size="17" text-anchor="end" fill="#131722" textLength="43.2" lengthAdjust="spacingAndGlyphs">60.00</text>
<text x="1961.8" y="1211.5" font-family="'Liberation Sans', sans-serif" font-size="17" text-anchor="end" fill="#131722" textLength="43.2" lengthAdjust="spacingAndGlyphs">20.00</text>
<rect x="1910" y="47.4" width="104" height="37.6" rx="5" fill="#ffffff" stroke="#e6e8ee" stroke-width="1.2"/>
<text x="1924" y="71.8" font-family="'Liberation Sans', sans-serif" font-size="17" fill="#131722" textLength="40.3" lengthAdjust="spacingAndGlyphs">USDT</text>
<rect x="1904.8" y="335" width="110.1" height="26.7" rx="2.5" fill="#000000"/>
<text x="2006.6" y="354.4" font-family="'Liberation Sans', sans-serif" font-size="17" font-weight="bold" text-anchor="end" fill="#ffffff" textLength="88.6" lengthAdjust="spacingAndGlyphs">115,153.55</text>
<rect x="1904.8" y="372.2" width="110.1" height="26.8" rx="2.5" fill="#f23645"/>
<text x="2006.6" y="391.7" font-family="'Liberation Sans', sans-serif" font-size="17" font-weight="bold" text-anchor="end" fill="#ffffff" textLength="88.6" lengthAdjust="spacingAndGlyphs">110,600.70</text>
<rect x="1905" y="1133" width="64.9" height="26.7" rx="2.5" fill="#7e57c2"/>
<text x="1961.8" y="1152.5" font-family="'Liberation Sans', sans-serif" font-size="17" font-weight="bold" text-anchor="end" fill="#ffffff" textLength="43.2" lengthAdjust="spacingAndGlyphs">40.46</text>
<path d="M158.3 266.6 H772 Q783 266.6 783 277.6 V339.2 L904.2 473.8 L770.2 352.2 H158.3 Q147.3 352.2 147.3 341.2 V277.6 Q147.3 266.6 158.3 266.6Z" fill="#ffffff" stroke="#151515" stroke-width="1.8" stroke-linejoin="round"/>
<text font-family="'Liberation Sans', sans-serif" font-size="25.5" font-weight="bold" fill="#111111"><tspan x="162.4" y="303" textLength="605.5" lengthAdjust="spacingAndGlyphs">Notice how after being rejected by the 50 EMA,</tspan><tspan x="162.6" y="330.5" textLength="569.5" lengthAdjust="spacingAndGlyphs">BTC can be suppressed by the band (1 stdev)</tspan></text>
<path d="M1084 143.8 H1569.5 Q1580.5 143.8 1580.5 154.8 V189 L1686.6 344.5 L1568 201.6 H1084 Q1073 201.6 1073 190.6 V154.8 Q1073 143.8 1084 143.8Z" fill="#ffffff" stroke="#151515" stroke-width="1.8" stroke-linejoin="round"/>
<text x="1089" y="181" font-family="'Liberation Sans', sans-serif" font-size="25.5" font-weight="bold" fill="#f23645" textLength="477" lengthAdjust="spacingAndGlyphs">Are we about to repeat this scenario?</text>
<path d="M1692 559.4 H1769.5 L1747.9 503.5 L1794 559.4 H1873 Q1884 559.4 1884 570.4 V633 Q1884 644 1873 644 H1692 Q1681 644 1681 633 V570.4 Q1681 559.4 1692 559.4Z" fill="#ffffff" stroke="#151515" stroke-width="1.8" stroke-linejoin="round"/>
<text font-family="'Liberation Sans', sans-serif" font-size="25.5" font-weight="bold" fill="#111111" text-anchor="middle"><tspan x="1786.6" y="595.8" textLength="79.5" lengthAdjust="spacingAndGlyphs">~$94K</tspan><tspan x="1783.2" y="622.2" textLength="174" lengthAdjust="spacingAndGlyphs">Key trendline</tspan></text>
<path d="M194.4 904 H218 L234.1 881.9 L242.7 904 H267.2 Q278.2 904 278.2 915 V951.6 Q278.2 962.6 267.2 962.6 H194.4 Q183.4 962.6 183.4 951.6 V915 Q183.4 904 194.4 904Z" fill="#ffffff" stroke="#151515" stroke-width="1.8" stroke-linejoin="round"/>
<text x="231.2" y="940.6" font-family="'Liberation Sans', sans-serif" font-size="25.5" font-weight="bold" fill="#111111" text-anchor="middle" textLength="63.5" lengthAdjust="spacingAndGlyphs">2024</text>
<g fill="#dbdbe2"><path d="M18 1287.2H36.3V1309.7H26.5V1296H18Z"/><circle cx="42.8" cy="1291.7" r="4.2"/><path d="M51.6 1287.2H62.9L54 1309.7H42.8Z"/></g>
<text x="73.5" y="1309.7" font-family="'Liberation Sans', sans-serif" font-size="31.4" font-weight="bold" fill="#dbdbe2" textLength="182.3" lengthAdjust="spacingAndGlyphs">TradingView</text>
</svg>
</body></html>
